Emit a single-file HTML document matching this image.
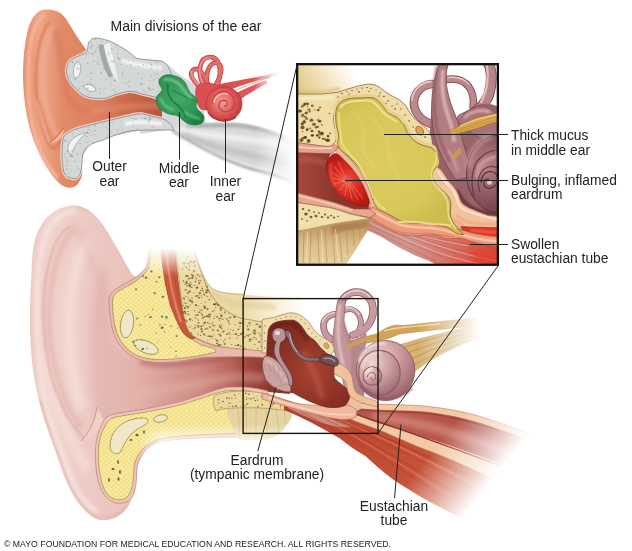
<!DOCTYPE html>
<html><head><meta charset="utf-8"><title>Ear infection</title>
<style>
html,body{margin:0;padding:0;background:#fff;}
svg{display:block}
text{font-family:"Liberation Sans",sans-serif;fill:#222}
</style></head>
<body>
<svg width="632" height="551" viewBox="0 0 632 551">
<rect width="632" height="551" fill="#fff"/>

<defs>
<filter id="b1" filterUnits="userSpaceOnUse" x="0" y="0" width="632" height="551"><feGaussianBlur stdDeviation="1"/></filter>
<filter id="b2" filterUnits="userSpaceOnUse" x="0" y="0" width="632" height="551"><feGaussianBlur stdDeviation="2"/></filter>
<filter id="b3" filterUnits="userSpaceOnUse" x="0" y="0" width="632" height="551"><feGaussianBlur stdDeviation="3.5"/></filter>
<filter id="b5" filterUnits="userSpaceOnUse" x="0" y="0" width="632" height="551"><feGaussianBlur stdDeviation="6"/></filter>
<filter id="b05" filterUnits="userSpaceOnUse" x="0" y="0" width="632" height="551"><feGaussianBlur stdDeviation="0.5"/></filter>
</defs>


<defs>
<linearGradient id="sgTube" x1="140" y1="0" x2="292" y2="0" gradientUnits="userSpaceOnUse">
 <stop offset="0" stop-color="#cfd1d1"/><stop offset="0.5" stop-color="#d2d4d4"/><stop offset="0.8" stop-color="#e6e7e7"/><stop offset="1" stop-color="#ffffff"/>
</linearGradient>
<linearGradient id="sgPinna" x1="24" y1="0" x2="90" y2="0" gradientUnits="userSpaceOnUse">
 <stop offset="0" stop-color="#e7936f"/><stop offset="0.25" stop-color="#efa586"/><stop offset="0.6" stop-color="#e38a68"/><stop offset="1" stop-color="#dd8160"/>
</linearGradient>
<linearGradient id="sgCanal" x1="80" y1="0" x2="160" y2="0" gradientUnits="userSpaceOnUse">
 <stop offset="0" stop-color="#e48a6a" stop-opacity="0"/><stop offset="0.5" stop-color="#cf6f4f"/><stop offset="1" stop-color="#b9553a"/>
</linearGradient>
<linearGradient id="smgTube" x1="255" y1="0" x2="296" y2="0" gradientUnits="userSpaceOnUse"><stop offset="0" stop-color="#fff"/><stop offset="1" stop-color="#fff" stop-opacity="0"/></linearGradient>
<mask id="smTube" maskUnits="userSpaceOnUse" x="0" y="0" width="632" height="551"><rect x="0" y="0" width="632" height="551" fill="url(#smgTube)"/></mask>
<clipPath id="scpPinna"><path d="M46,9.5 C38,9.5 31.5,17 28,29 C23,50 22,72 24,95 C26,116 30,132 36,146 C42,160 50,174 58,182 C64,188.5 72,189.5 77,185 C81,180 83,175 82,171 L80,160 L92,140 L162,126 L162,92 L120,60 L92,46 L86,49.5 C80,42 74,32 69,23.6 C66,18 62.5,14 58.5,12 C54.5,10 50,9.5 46,9.5 Z"/></clipPath>
<radialGradient id="sgCoch" cx="222" cy="102" r="20" gradientUnits="userSpaceOnUse">
 <stop offset="0" stop-color="#f3a39c"/><stop offset="0.6" stop-color="#de5a58"/><stop offset="1" stop-color="#c03c40"/>
</radialGradient>
<linearGradient id="sgNerve" x1="215" y1="0" x2="280" y2="0" gradientUnits="userSpaceOnUse">
 <stop offset="0" stop-color="#d54a4a"/><stop offset="0.6" stop-color="#dc5c5a"/><stop offset="1" stop-color="#f2b4ae" stop-opacity="0"/>
</linearGradient>
<radialGradient id="sgGreen" cx="178" cy="98" r="30" gradientUnits="userSpaceOnUse">
 <stop offset="0" stop-color="#45a869"/><stop offset="0.7" stop-color="#2e9655"/><stop offset="1" stop-color="#1f7f45"/>
</radialGradient>
</defs>
<g id="smallear">
 <!-- gray tube going lower right -->
 <g mask="url(#smTube)">
 <path d="M150,60 L162,61 C168,64 172,68 176,72 C184,78 192,82 200,90 L206,123 C217,122.5 228,122.5 237.5,122.8 C245,123.5 252,125 259,126.9 C267,129 274,131 280.5,133.6 L300,142 L300,186 C290,181 280,177 270,174 C263,172 257,171 251,170 C241,166.5 232,163 224,159 C214,154.5 205,150 197,145.7 C188,140.5 179,135 170,129.6 L140,134 L140,100 Z" fill="#d6d7d7"/>
 <path d="M186,127 C200,125.5 220,125 238,125.5 C252,126.5 268,131 284,138" stroke="#a9abab" stroke-width="4" fill="none" filter="url(#b1)" opacity="0.85"/>
 <path d="M176,129 C200,134 235,138 262,141 C275,143 288,147 300,152" stroke="#f2f2f2" stroke-width="6" fill="none" filter="url(#b2)" opacity="0.95"/>
 <path d="M182,134 C200,142 225,150 250,155 C268,158 284,163 298,168" stroke="#b4b6b6" stroke-width="4.5" fill="none" filter="url(#b2)" opacity="0.8"/>
 <path d="M200,147 C215,155 235,162 255,167 C270,170 284,174 296,179" stroke="#ececec" stroke-width="3" fill="none" filter="url(#b1)" opacity="0.8"/>
 <path d="M172,131 C185,139 200,147.5 224,159 C240,166 256,171 270,174 C280,177 290,181 300,186" stroke="#a4a6a6" stroke-width="2.5" fill="none" filter="url(#b1)" opacity="0.8"/>
 </g>
 <!-- orange pinna + canal -->
 <path d="M46,9.5 C38,9.5 31.5,17 28,29 C23,50 22,72 24,95 C26,116 30,132 36,146 C42,160 50,174 58,182 C64,188.5 72,189.5 77,185 C81,180 83,175 82,171 L80,160 L92,140 L162,126 L162,92 L120,60 L92,46 L86,49.5 C80,42 74,32 69,23.6 C66,18 62.5,14 58.5,12 C54.5,10 50,9.5 46,9.5 Z" fill="url(#sgPinna)"/>
 <!-- helix highlight -->
 <path d="M45,14 C37,18 31,34 29,55 C27,80 28,105 33,128 C38,150 48,168 58,178" stroke="#f6b9a2" stroke-width="3.5" fill="none" filter="url(#b1)" opacity="0.8"/>
 <!-- inner fold shadow -->
 <path d="M50,22 C42,30 37,50 36,75 C35,100 40,125 48,143 C53,152 58,148 60,140" stroke="#d4714f" stroke-width="2.5" fill="none" filter="url(#b1)" opacity="0.7"/>
 <path d="M52,26 C46,40 42,60 43,85 C44,105 50,125 58,138" stroke="#f2ad94" stroke-width="5" fill="none" filter="url(#b2)" opacity="0.8"/>
 <path d="M56,30 C60,50 62,70 66,90 C70,105 80,112 95,112" stroke="#d87655" stroke-width="6" fill="none" filter="url(#b2)" opacity="0.55"/>
 <!-- canal darker -->
 <path d="M70,100 L101,99 L127,92 L142,94.5 L162,99 L162,118 L142,115 L127,118 L101,122 L76,129 Z" fill="url(#sgCanal)"/>
 <path d="M90,112 C110,108 135,104 160,106" stroke="#e89878" stroke-width="4" fill="none" filter="url(#b2)" opacity="0.6"/>
 <!-- tragus-like notch lower -->
 <path d="M64.5,127.5 C61,132 56,138 49.5,143 C53,143.5 57,142 60,139 C62.5,136 64,132 64.5,127.5 Z" fill="#f5b9a2"/>
 <path d="M64.5,127.5 C61,132 56,138 49.5,143" stroke="#c9623f" stroke-width="1.1" fill="none" opacity="0.85"/>
 <path d="M36,100 C40,116 44,130 49.5,143" stroke="#f4b49c" stroke-width="2.2" fill="none" filter="url(#b1)" opacity="0.8"/>
 <path d="M39,100 C43,116 47,128 52,139" stroke="#d4704e" stroke-width="1.6" fill="none" filter="url(#b1)" opacity="0.6"/>
 <!-- upper gray bone -->
 <path d="M66.5,71 C67,64 70,60 73.6,58.4 C80,55 86,54 87.6,49.5 C88,45 88,42 90,40.6 C92,38.5 94,38 96.4,38 C102,38.5 107,40 111.7,42 C117,44.5 122,47.5 127,50.8 C131,53.5 134,57 137,58.4 C145,60 152,60 162,61 C168,64 172,72 172,82 C172,90 170,96 166,100.5 C158,98 148,95 142,94 C137,92 132,91 127,91.5 C122,92.5 118,94 113,95.5 C109,97.5 105,98.5 101.5,98.5 C96,98.5 90,98 86,96.4 C82,94.5 79,92 76,88.8 C71,84 66.5,78 66.5,71 Z" fill="none" stroke="#f3cdbd" stroke-width="3.4" stroke-linejoin="round" clip-path="url(#scpPinna)"/>
 <path d="M66.5,71 C67,64 70,60 73.6,58.4 C80,55 86,54 87.6,49.5 C88,45 88,42 90,40.6 C92,38.5 94,38 96.4,38 C102,38.5 107,40 111.7,42 C117,44.5 122,47.5 127,50.8 C131,53.5 134,57 137,58.4 C145,60 152,60 162,61 C168,64 172,72 172,82 C172,90 170,96 166,100.5 C158,98 148,95 142,94 C137,92 132,91 127,91.5 C122,92.5 118,94 113,95.5 C109,97.5 105,98.5 101.5,98.5 C96,98.5 90,98 86,96.4 C82,94.5 79,92 76,88.8 C71,84 66.5,78 66.5,71 Z" fill="#d5d8d9" stroke="#8b9192" stroke-width="0.9"/>
 <path d="M98.5,44.5 C99.5,55 103,67 109,78 L113,76 C108,65 105,55 103.5,44.5 Z" fill="#a4a9aa"/>
 <path d="M104,45 C106,55 109,66 113.5,75 L119,84 C116,70 112,55 110,43 Z" fill="#f1f2f2"/>
 <ellipse cx="77" cy="70" rx="3.6" ry="8" fill="#f2f3f3" stroke="#9a9e9e" stroke-width="0.7" transform="rotate(8 77 70)"/>
 <ellipse cx="90" cy="88" rx="6" ry="3.2" fill="#f2f3f3" stroke="#9a9e9e" stroke-width="0.7" transform="rotate(20 90 88)"/>
 <path d="M122,60 C130,64 140,66 162,68" stroke="#f4f5f5" stroke-width="4" fill="none" filter="url(#b1)"/>
 <ellipse cx="97.1" cy="47.4" rx="0.79" ry="0.64" fill="#858b8c" opacity="0.33"/>
<ellipse cx="101.0" cy="41.6" rx="0.70" ry="0.54" fill="#858b8c" opacity="0.31"/>
<ellipse cx="106.5" cy="89.3" rx="0.47" ry="0.40" fill="#858b8c" opacity="0.39"/>
<ellipse cx="155.1" cy="73.8" rx="0.64" ry="0.39" fill="#858b8c" opacity="0.69"/>
<ellipse cx="95.7" cy="88.6" rx="0.51" ry="0.44" fill="#858b8c" opacity="0.53"/>
<ellipse cx="101.6" cy="72.0" rx="0.44" ry="0.30" fill="#858b8c" opacity="0.32"/>
<ellipse cx="130.3" cy="64.5" rx="0.59" ry="0.46" fill="#858b8c" opacity="0.53"/>
<ellipse cx="94.9" cy="87.3" rx="0.82" ry="0.68" fill="#858b8c" opacity="0.40"/>
<ellipse cx="115.8" cy="92.3" rx="0.84" ry="0.83" fill="#858b8c" opacity="0.42"/>
<ellipse cx="78.0" cy="63.9" rx="0.85" ry="0.68" fill="#858b8c" opacity="0.36"/>
<ellipse cx="138.1" cy="73.5" rx="0.93" ry="0.81" fill="#858b8c" opacity="0.43"/>
<ellipse cx="122.3" cy="74.0" rx="0.67" ry="0.66" fill="#858b8c" opacity="0.64"/>
<ellipse cx="111.1" cy="79.2" rx="0.44" ry="0.37" fill="#858b8c" opacity="0.58"/>
<ellipse cx="159.4" cy="89.0" rx="0.57" ry="0.50" fill="#858b8c" opacity="0.45"/>
<ellipse cx="103.4" cy="92.0" rx="0.45" ry="0.37" fill="#858b8c" opacity="0.48"/>
<ellipse cx="149.2" cy="88.8" rx="0.92" ry="0.70" fill="#858b8c" opacity="0.41"/>
<ellipse cx="100.4" cy="92.8" rx="0.97" ry="0.65" fill="#858b8c" opacity="0.36"/>
<ellipse cx="88.6" cy="52.5" rx="0.69" ry="0.49" fill="#858b8c" opacity="0.54"/>
<ellipse cx="101.3" cy="73.1" rx="0.97" ry="0.78" fill="#858b8c" opacity="0.58"/>
<ellipse cx="124.4" cy="79.9" rx="0.43" ry="0.39" fill="#858b8c" opacity="0.66"/>
<ellipse cx="148.3" cy="87.5" rx="0.64" ry="0.41" fill="#858b8c" opacity="0.46"/>
<ellipse cx="82.1" cy="59.1" rx="0.43" ry="0.29" fill="#858b8c" opacity="0.30"/>
<ellipse cx="76.4" cy="60.5" rx="0.42" ry="0.35" fill="#858b8c" opacity="0.65"/>
<ellipse cx="99.3" cy="60.6" rx="0.47" ry="0.47" fill="#858b8c" opacity="0.64"/>
<ellipse cx="110.3" cy="68.0" rx="0.45" ry="0.33" fill="#858b8c" opacity="0.34"/>
<ellipse cx="91.6" cy="89.4" rx="0.50" ry="0.49" fill="#858b8c" opacity="0.31"/>
<ellipse cx="116.1" cy="47.1" rx="0.73" ry="0.59" fill="#858b8c" opacity="0.31"/>
<ellipse cx="158.0" cy="91.5" rx="0.82" ry="0.61" fill="#858b8c" opacity="0.40"/>
<ellipse cx="82.5" cy="85.9" rx="0.72" ry="0.53" fill="#858b8c" opacity="0.61"/>
<ellipse cx="87.7" cy="88.3" rx="0.99" ry="0.91" fill="#858b8c" opacity="0.64"/>
<ellipse cx="143.1" cy="83.9" rx="0.54" ry="0.40" fill="#858b8c" opacity="0.51"/>
<ellipse cx="93.0" cy="54.1" rx="0.82" ry="0.64" fill="#858b8c" opacity="0.68"/>
<ellipse cx="87.5" cy="52.1" rx="0.52" ry="0.44" fill="#858b8c" opacity="0.38"/>
<ellipse cx="150.7" cy="90.1" rx="0.69" ry="0.63" fill="#858b8c" opacity="0.56"/>
<ellipse cx="74.9" cy="79.0" rx="0.95" ry="0.85" fill="#858b8c" opacity="0.61"/>
<ellipse cx="111.5" cy="49.1" rx="0.87" ry="0.80" fill="#858b8c" opacity="0.43"/>
<ellipse cx="157.4" cy="62.5" rx="0.64" ry="0.57" fill="#858b8c" opacity="0.68"/>
<ellipse cx="128.1" cy="59.7" rx="0.73" ry="0.44" fill="#858b8c" opacity="0.35"/>
<ellipse cx="157.3" cy="78.3" rx="0.72" ry="0.55" fill="#858b8c" opacity="0.67"/>
<ellipse cx="148.1" cy="89.2" rx="0.53" ry="0.38" fill="#858b8c" opacity="0.40"/>
<ellipse cx="89.4" cy="74.4" rx="0.56" ry="0.36" fill="#858b8c" opacity="0.47"/>
<ellipse cx="109.6" cy="74.2" rx="0.94" ry="0.91" fill="#858b8c" opacity="0.47"/>
<ellipse cx="113.7" cy="71.0" rx="0.71" ry="0.55" fill="#858b8c" opacity="0.31"/>
<ellipse cx="111.0" cy="83.0" rx="0.73" ry="0.59" fill="#858b8c" opacity="0.43"/>
<ellipse cx="118.7" cy="86.6" rx="0.46" ry="0.32" fill="#858b8c" opacity="0.52"/>
<ellipse cx="92.8" cy="85.9" rx="0.70" ry="0.64" fill="#858b8c" opacity="0.52"/>
<ellipse cx="151.9" cy="65.5" rx="0.77" ry="0.62" fill="#858b8c" opacity="0.50"/>
<ellipse cx="131.4" cy="66.0" rx="0.72" ry="0.70" fill="#858b8c" opacity="0.49"/>
<ellipse cx="78.3" cy="65.4" rx="0.44" ry="0.28" fill="#858b8c" opacity="0.40"/>
<ellipse cx="129.3" cy="86.6" rx="0.94" ry="0.83" fill="#858b8c" opacity="0.36"/>
<ellipse cx="104.0" cy="68.2" rx="0.99" ry="0.66" fill="#858b8c" opacity="0.63"/>
<ellipse cx="107.1" cy="70.0" rx="0.60" ry="0.44" fill="#858b8c" opacity="0.38"/>
<ellipse cx="118.5" cy="65.3" rx="0.41" ry="0.35" fill="#858b8c" opacity="0.43"/>
<ellipse cx="158.6" cy="86.9" rx="0.98" ry="0.69" fill="#858b8c" opacity="0.34"/>
<ellipse cx="92.2" cy="46.0" rx="0.65" ry="0.61" fill="#858b8c" opacity="0.66"/>
<ellipse cx="91.1" cy="47.3" rx="0.95" ry="0.84" fill="#858b8c" opacity="0.53"/>
<ellipse cx="131.0" cy="64.4" rx="0.44" ry="0.38" fill="#858b8c" opacity="0.68"/>
<ellipse cx="147.2" cy="66.1" rx="0.60" ry="0.59" fill="#858b8c" opacity="0.52"/>
<ellipse cx="91.9" cy="46.0" rx="0.72" ry="0.46" fill="#858b8c" opacity="0.40"/>
<ellipse cx="85.8" cy="57.3" rx="0.58" ry="0.42" fill="#858b8c" opacity="0.60"/>
<ellipse cx="113.5" cy="49.0" rx="0.61" ry="0.43" fill="#858b8c" opacity="0.31"/>
<ellipse cx="118.2" cy="49.7" rx="0.68" ry="0.44" fill="#858b8c" opacity="0.67"/>
<ellipse cx="143.2" cy="64.8" rx="0.70" ry="0.53" fill="#858b8c" opacity="0.63"/>
<ellipse cx="114.1" cy="80.6" rx="0.99" ry="0.92" fill="#858b8c" opacity="0.44"/>
<ellipse cx="132.7" cy="77.4" rx="0.64" ry="0.40" fill="#858b8c" opacity="0.44"/>
<ellipse cx="145.2" cy="92.0" rx="0.80" ry="0.56" fill="#858b8c" opacity="0.41"/>
<ellipse cx="94.3" cy="66.5" rx="0.49" ry="0.35" fill="#858b8c" opacity="0.48"/>
<ellipse cx="117.9" cy="53.2" rx="0.98" ry="0.73" fill="#858b8c" opacity="0.42"/>
<ellipse cx="111.1" cy="69.2" rx="0.52" ry="0.31" fill="#858b8c" opacity="0.50"/>
<ellipse cx="91.6" cy="43.6" rx="0.64" ry="0.39" fill="#858b8c" opacity="0.32"/>
<ellipse cx="95.3" cy="52.4" rx="0.75" ry="0.68" fill="#858b8c" opacity="0.51"/>
<ellipse cx="128.2" cy="82.4" rx="0.93" ry="0.68" fill="#858b8c" opacity="0.46"/>
<ellipse cx="134.3" cy="77.9" rx="0.43" ry="0.41" fill="#858b8c" opacity="0.63"/>
<ellipse cx="125.3" cy="83.5" rx="0.89" ry="0.72" fill="#858b8c" opacity="0.36"/>
<ellipse cx="113.9" cy="89.8" rx="0.88" ry="0.74" fill="#858b8c" opacity="0.63"/>
<ellipse cx="150.0" cy="80.3" rx="0.82" ry="0.50" fill="#858b8c" opacity="0.39"/>
<ellipse cx="79.4" cy="60.4" rx="0.46" ry="0.38" fill="#858b8c" opacity="0.63"/>
<ellipse cx="125.4" cy="76.8" rx="0.81" ry="0.49" fill="#858b8c" opacity="0.50"/>
<ellipse cx="141.2" cy="84.4" rx="0.70" ry="0.61" fill="#858b8c" opacity="0.51"/>
<ellipse cx="90.5" cy="42.6" rx="0.56" ry="0.38" fill="#858b8c" opacity="0.59"/>
<ellipse cx="112.9" cy="61.7" rx="0.69" ry="0.62" fill="#858b8c" opacity="0.57"/>
<ellipse cx="124.4" cy="77.9" rx="0.45" ry="0.31" fill="#858b8c" opacity="0.36"/>
<ellipse cx="129.5" cy="80.9" rx="0.81" ry="0.65" fill="#858b8c" opacity="0.42"/>
<ellipse cx="110.2" cy="66.9" rx="0.47" ry="0.32" fill="#858b8c" opacity="0.66"/>
<ellipse cx="158.0" cy="96.0" rx="0.41" ry="0.38" fill="#858b8c" opacity="0.48"/>
<ellipse cx="157.0" cy="65.9" rx="0.56" ry="0.55" fill="#858b8c" opacity="0.38"/>
<ellipse cx="86.6" cy="74.1" rx="0.49" ry="0.48" fill="#858b8c" opacity="0.51"/>
<ellipse cx="79.3" cy="88.9" rx="0.71" ry="0.62" fill="#858b8c" opacity="0.65"/>
<ellipse cx="88.5" cy="93.7" rx="0.69" ry="0.42" fill="#858b8c" opacity="0.31"/>
<ellipse cx="112.7" cy="65.9" rx="0.58" ry="0.43" fill="#858b8c" opacity="0.36"/>
<ellipse cx="96.4" cy="90.1" rx="0.40" ry="0.38" fill="#858b8c" opacity="0.60"/>
<ellipse cx="94.0" cy="61.1" rx="0.64" ry="0.53" fill="#858b8c" opacity="0.70"/>
<ellipse cx="100.5" cy="64.5" rx="0.57" ry="0.36" fill="#858b8c" opacity="0.32"/>
<ellipse cx="91.7" cy="69.7" rx="0.51" ry="0.50" fill="#858b8c" opacity="0.45"/>
<ellipse cx="149.2" cy="88.3" rx="0.78" ry="0.76" fill="#858b8c" opacity="0.67"/>
<ellipse cx="118.1" cy="82.6" rx="0.43" ry="0.34" fill="#858b8c" opacity="0.59"/>
<ellipse cx="137.0" cy="78.0" rx="0.57" ry="0.55" fill="#858b8c" opacity="0.32"/>
<ellipse cx="78.8" cy="67.3" rx="0.61" ry="0.54" fill="#858b8c" opacity="0.42"/>
<ellipse cx="128.0" cy="56.7" rx="0.73" ry="0.49" fill="#858b8c" opacity="0.46"/>
<ellipse cx="151.3" cy="68.8" rx="0.53" ry="0.53" fill="#858b8c" opacity="0.66"/>
<ellipse cx="108.8" cy="46.7" rx="0.52" ry="0.38" fill="#858b8c" opacity="0.34"/>
<ellipse cx="91.0" cy="73.3" rx="0.93" ry="0.71" fill="#858b8c" opacity="0.60"/>
<ellipse cx="105.5" cy="70.5" rx="0.63" ry="0.39" fill="#858b8c" opacity="0.44"/>
<ellipse cx="78.7" cy="69.2" rx="0.78" ry="0.53" fill="#858b8c" opacity="0.65"/>
<ellipse cx="92.2" cy="53.4" rx="0.64" ry="0.63" fill="#858b8c" opacity="0.48"/>
<ellipse cx="145.9" cy="92.1" rx="0.41" ry="0.37" fill="#858b8c" opacity="0.31"/>
<ellipse cx="150.3" cy="67.3" rx="0.75" ry="0.57" fill="#858b8c" opacity="0.30"/>
<ellipse cx="153.2" cy="89.2" rx="0.91" ry="0.64" fill="#858b8c" opacity="0.69"/>
<ellipse cx="115.6" cy="80.3" rx="0.96" ry="0.83" fill="#858b8c" opacity="0.59"/>
<ellipse cx="138.1" cy="66.4" rx="0.73" ry="0.67" fill="#858b8c" opacity="0.32"/>
<ellipse cx="88.6" cy="95.0" rx="0.79" ry="0.51" fill="#858b8c" opacity="0.42"/>
<ellipse cx="90.4" cy="77.5" rx="0.82" ry="0.51" fill="#858b8c" opacity="0.34"/>
<ellipse cx="115.8" cy="74.1" rx="0.63" ry="0.53" fill="#858b8c" opacity="0.39"/>
<ellipse cx="111.2" cy="52.6" rx="0.55" ry="0.48" fill="#858b8c" opacity="0.68"/>
<ellipse cx="95.6" cy="39.4" rx="0.70" ry="0.54" fill="#858b8c" opacity="0.57"/>
<ellipse cx="90.9" cy="79.4" rx="0.96" ry="0.59" fill="#858b8c" opacity="0.39"/>
<ellipse cx="98.4" cy="64.1" rx="0.81" ry="0.74" fill="#858b8c" opacity="0.38"/>
<ellipse cx="135.7" cy="69.3" rx="0.52" ry="0.38" fill="#858b8c" opacity="0.69"/>
<ellipse cx="87.6" cy="85.1" rx="0.58" ry="0.46" fill="#858b8c" opacity="0.68"/>
<ellipse cx="105.8" cy="79.2" rx="0.97" ry="0.73" fill="#858b8c" opacity="0.36"/>
<ellipse cx="72.6" cy="62.4" rx="0.94" ry="0.84" fill="#858b8c" opacity="0.65"/>
<ellipse cx="159.8" cy="95.8" rx="0.60" ry="0.58" fill="#858b8c" opacity="0.37"/>
<ellipse cx="128.8" cy="61.5" rx="0.62" ry="0.42" fill="#858b8c" opacity="0.43"/>
<ellipse cx="99.7" cy="97.2" rx="0.47" ry="0.32" fill="#858b8c" opacity="0.69"/>
<ellipse cx="100.2" cy="88.9" rx="0.89" ry="0.55" fill="#858b8c" opacity="0.47"/>
<ellipse cx="111.0" cy="61.1" rx="0.95" ry="0.71" fill="#858b8c" opacity="0.38"/>
<ellipse cx="105.2" cy="88.3" rx="0.86" ry="0.53" fill="#858b8c" opacity="0.32"/>
<ellipse cx="90.9" cy="84.3" rx="0.94" ry="0.67" fill="#858b8c" opacity="0.44"/>
<ellipse cx="156.1" cy="76.3" rx="0.56" ry="0.40" fill="#858b8c" opacity="0.59"/>
<ellipse cx="155.7" cy="62.0" rx="0.55" ry="0.44" fill="#858b8c" opacity="0.47"/>
<ellipse cx="141.6" cy="83.8" rx="0.89" ry="0.75" fill="#858b8c" opacity="0.61"/>
<ellipse cx="97.5" cy="57.8" rx="0.62" ry="0.39" fill="#858b8c" opacity="0.61"/>
<ellipse cx="85.3" cy="84.7" rx="0.55" ry="0.34" fill="#858b8c" opacity="0.33"/>
<ellipse cx="118.4" cy="58.2" rx="0.99" ry="0.98" fill="#858b8c" opacity="0.65"/>
<ellipse cx="91.6" cy="43.2" rx="0.46" ry="0.40" fill="#858b8c" opacity="0.50"/>
<ellipse cx="108.6" cy="52.5" rx="0.65" ry="0.57" fill="#858b8c" opacity="0.55"/>
<ellipse cx="136.6" cy="90.5" rx="0.80" ry="0.75" fill="#858b8c" opacity="0.35"/>
<ellipse cx="94.3" cy="73.1" rx="0.62" ry="0.42" fill="#858b8c" opacity="0.60"/>
<ellipse cx="90.0" cy="53.2" rx="0.49" ry="0.41" fill="#858b8c" opacity="0.65"/>
<ellipse cx="97.3" cy="62.6" rx="1.00" ry="0.69" fill="#858b8c" opacity="0.50"/>
<ellipse cx="142.2" cy="78.5" rx="0.99" ry="0.79" fill="#858b8c" opacity="0.34"/>
<ellipse cx="143.2" cy="90.1" rx="0.95" ry="0.68" fill="#858b8c" opacity="0.32"/>
<ellipse cx="157.5" cy="74.2" rx="0.96" ry="0.91" fill="#858b8c" opacity="0.45"/>
<ellipse cx="108.8" cy="54.1" rx="0.87" ry="0.56" fill="#858b8c" opacity="0.68"/>
<ellipse cx="122.4" cy="76.4" rx="0.53" ry="0.35" fill="#858b8c" opacity="0.45"/>
<ellipse cx="86.0" cy="53.8" rx="0.76" ry="0.52" fill="#858b8c" opacity="0.56"/>
<ellipse cx="96.0" cy="50.6" rx="0.88" ry="0.55" fill="#858b8c" opacity="0.52"/>
<ellipse cx="76.4" cy="62.5" rx="0.73" ry="0.46" fill="#858b8c" opacity="0.56"/>
<ellipse cx="82.2" cy="81.1" rx="0.65" ry="0.47" fill="#858b8c" opacity="0.41"/>
<ellipse cx="119.7" cy="60.1" rx="0.65" ry="0.65" fill="#858b8c" opacity="0.65"/>
<ellipse cx="100.8" cy="50.2" rx="0.84" ry="0.50" fill="#858b8c" opacity="0.38"/>
<ellipse cx="150.9" cy="64.3" rx="0.89" ry="0.85" fill="#858b8c" opacity="0.46"/>
<ellipse cx="109.9" cy="48.1" rx="0.41" ry="0.35" fill="#858b8c" opacity="0.52"/>
<ellipse cx="124.9" cy="61.0" rx="0.70" ry="0.50" fill="#858b8c" opacity="0.36"/>
<ellipse cx="77.1" cy="68.4" rx="0.88" ry="0.60" fill="#858b8c" opacity="0.69"/>
<ellipse cx="157.7" cy="67.9" rx="0.43" ry="0.33" fill="#858b8c" opacity="0.67"/>
<ellipse cx="151.1" cy="76.5" rx="0.89" ry="0.82" fill="#858b8c" opacity="0.36"/>
<ellipse cx="87.7" cy="63.1" rx="0.91" ry="0.61" fill="#858b8c" opacity="0.63"/>
<ellipse cx="87.3" cy="62.8" rx="0.71" ry="0.46" fill="#858b8c" opacity="0.45"/>
<ellipse cx="90.0" cy="82.9" rx="0.94" ry="0.77" fill="#858b8c" opacity="0.32"/>
<ellipse cx="122.8" cy="72.1" rx="0.78" ry="0.60" fill="#858b8c" opacity="0.42"/>
<ellipse cx="121.2" cy="64.4" rx="0.80" ry="0.62" fill="#858b8c" opacity="0.48"/>
<ellipse cx="69.2" cy="76.4" rx="0.69" ry="0.63" fill="#858b8c" opacity="0.39"/>
<ellipse cx="139.5" cy="66.4" rx="0.51" ry="0.33" fill="#858b8c" opacity="0.49"/>
<ellipse cx="78.9" cy="64.7" rx="0.46" ry="0.37" fill="#858b8c" opacity="0.48"/>
<ellipse cx="70.8" cy="77.5" rx="0.45" ry="0.41" fill="#858b8c" opacity="0.59"/>
<ellipse cx="113.9" cy="61.4" rx="0.97" ry="0.92" fill="#858b8c" opacity="0.35"/>
<ellipse cx="159.6" cy="83.4" rx="0.89" ry="0.88" fill="#858b8c" opacity="0.38"/>
<ellipse cx="86.4" cy="54.3" rx="0.70" ry="0.43" fill="#858b8c" opacity="0.43"/>
<ellipse cx="154.1" cy="80.1" rx="0.94" ry="0.86" fill="#858b8c" opacity="0.37"/>
 <!-- lower gray bone -->
 <path d="M63.5,137 C66,133 71,131 76,129 C84,126.5 93,124.5 101.5,122.3 C110,120.3 119,118 127,116.2 C132,115 137,113.8 142,113.8 C148,115.5 155,117 162,118.5 C168,121 172,125 174,130 C160,130 142,130 132,130.5 C121,132.5 110,137 101.5,140.6 C96,142 92,143.5 89,145.7 C85,148.5 83,152 82.5,156 C82,161 82,166 81,171 C80,175.5 77,179 73.6,178.7 C68,178 64.5,175 63.5,171 C61.5,160 61.5,146 63.5,137 Z" fill="none" stroke="#f3cdbd" stroke-width="3.4" stroke-linejoin="round" clip-path="url(#scpPinna)"/>
 <path d="M63.5,137 C66,133 71,131 76,129 C84,126.5 93,124.5 101.5,122.3 C110,120.3 119,118 127,116.2 C132,115 137,113.8 142,113.8 C148,115.5 155,117 162,118.5 C168,121 172,125 174,130 C160,130 142,130 132,130.5 C121,132.5 110,137 101.5,140.6 C96,142 92,143.5 89,145.7 C85,148.5 83,152 82.5,156 C82,161 82,166 81,171 C80,175.5 77,179 73.6,178.7 C68,178 64.5,175 63.5,171 C61.5,160 61.5,146 63.5,137 Z" fill="#d5d8d9" stroke="#8b9192" stroke-width="0.9"/>
 <path d="M68,146 C70,139 78,134 88,132 C80,137 73,147 71,156 C69,153 67.5,150 68,146 Z" fill="#f2f3f3" stroke="#9a9e9e" stroke-width="0.7"/>
 <path d="M125,124 C135,121 148,122 162,124" stroke="#f4f5f5" stroke-width="4" fill="none" filter="url(#b1)"/>
 <ellipse cx="74.2" cy="149.5" rx="0.72" ry="0.68" fill="#858b8c" opacity="0.44"/>
<ellipse cx="148.6" cy="121.8" rx="0.90" ry="0.68" fill="#858b8c" opacity="0.55"/>
<ellipse cx="105.9" cy="126.5" rx="0.77" ry="0.72" fill="#858b8c" opacity="0.32"/>
<ellipse cx="77.5" cy="155.0" rx="0.62" ry="0.59" fill="#858b8c" opacity="0.51"/>
<ellipse cx="73.3" cy="138.2" rx="0.51" ry="0.43" fill="#858b8c" opacity="0.53"/>
<ellipse cx="109.1" cy="123.8" rx="0.87" ry="0.57" fill="#858b8c" opacity="0.40"/>
<ellipse cx="72.3" cy="156.5" rx="0.84" ry="0.64" fill="#858b8c" opacity="0.61"/>
<ellipse cx="150.6" cy="117.9" rx="0.67" ry="0.46" fill="#858b8c" opacity="0.46"/>
<ellipse cx="68.7" cy="165.6" rx="0.41" ry="0.40" fill="#858b8c" opacity="0.52"/>
<ellipse cx="79.9" cy="135.1" rx="0.55" ry="0.53" fill="#858b8c" opacity="0.32"/>
<ellipse cx="63.6" cy="169.9" rx="0.77" ry="0.69" fill="#858b8c" opacity="0.49"/>
<ellipse cx="106.9" cy="129.7" rx="0.45" ry="0.28" fill="#858b8c" opacity="0.39"/>
<ellipse cx="156.6" cy="129.1" rx="0.84" ry="0.59" fill="#858b8c" opacity="0.31"/>
<ellipse cx="94.9" cy="130.5" rx="0.85" ry="0.75" fill="#858b8c" opacity="0.55"/>
<ellipse cx="70.5" cy="174.2" rx="0.47" ry="0.30" fill="#858b8c" opacity="0.31"/>
<ellipse cx="67.0" cy="160.0" rx="0.72" ry="0.64" fill="#858b8c" opacity="0.58"/>
<ellipse cx="69.4" cy="153.4" rx="0.58" ry="0.54" fill="#858b8c" opacity="0.63"/>
<ellipse cx="149.5" cy="119.3" rx="0.83" ry="0.82" fill="#858b8c" opacity="0.67"/>
<ellipse cx="136.5" cy="128.3" rx="0.56" ry="0.34" fill="#858b8c" opacity="0.47"/>
<ellipse cx="87.9" cy="133.4" rx="0.76" ry="0.55" fill="#858b8c" opacity="0.45"/>
<ellipse cx="66.0" cy="141.8" rx="0.62" ry="0.46" fill="#858b8c" opacity="0.61"/>
<ellipse cx="71.8" cy="168.3" rx="0.49" ry="0.33" fill="#858b8c" opacity="0.30"/>
<ellipse cx="80.9" cy="147.1" rx="0.57" ry="0.40" fill="#858b8c" opacity="0.63"/>
<ellipse cx="111.3" cy="122.1" rx="0.72" ry="0.66" fill="#858b8c" opacity="0.33"/>
<ellipse cx="149.4" cy="120.6" rx="0.84" ry="0.58" fill="#858b8c" opacity="0.31"/>
<ellipse cx="94.7" cy="125.1" rx="0.82" ry="0.74" fill="#858b8c" opacity="0.56"/>
<ellipse cx="79.4" cy="143.5" rx="0.79" ry="0.51" fill="#858b8c" opacity="0.53"/>
<ellipse cx="86.1" cy="127.5" rx="0.55" ry="0.52" fill="#858b8c" opacity="0.58"/>
<ellipse cx="87.0" cy="136.2" rx="0.66" ry="0.48" fill="#858b8c" opacity="0.36"/>
<ellipse cx="133.7" cy="121.6" rx="0.88" ry="0.66" fill="#858b8c" opacity="0.34"/>
<ellipse cx="82.0" cy="156.5" rx="0.45" ry="0.34" fill="#858b8c" opacity="0.38"/>
<ellipse cx="66.3" cy="140.9" rx="0.80" ry="0.64" fill="#858b8c" opacity="0.58"/>
<ellipse cx="76.8" cy="154.2" rx="0.60" ry="0.58" fill="#858b8c" opacity="0.60"/>
<ellipse cx="107.0" cy="135.3" rx="0.71" ry="0.55" fill="#858b8c" opacity="0.34"/>
<ellipse cx="124.1" cy="131.3" rx="0.61" ry="0.52" fill="#858b8c" opacity="0.48"/>
<ellipse cx="153.2" cy="126.9" rx="0.73" ry="0.55" fill="#858b8c" opacity="0.61"/>
<ellipse cx="66.7" cy="150.3" rx="0.48" ry="0.47" fill="#858b8c" opacity="0.61"/>
<ellipse cx="113.4" cy="121.6" rx="0.69" ry="0.61" fill="#858b8c" opacity="0.52"/>
<ellipse cx="89.6" cy="141.0" rx="0.41" ry="0.31" fill="#858b8c" opacity="0.47"/>
<ellipse cx="88.7" cy="129.6" rx="0.77" ry="0.62" fill="#858b8c" opacity="0.68"/>
<ellipse cx="101.0" cy="128.8" rx="0.46" ry="0.43" fill="#858b8c" opacity="0.61"/>
<ellipse cx="117.5" cy="129.7" rx="0.88" ry="0.75" fill="#858b8c" opacity="0.44"/>
<ellipse cx="108.4" cy="134.1" rx="0.67" ry="0.63" fill="#858b8c" opacity="0.35"/>
<ellipse cx="88.9" cy="139.4" rx="0.53" ry="0.36" fill="#858b8c" opacity="0.47"/>
<ellipse cx="90.3" cy="130.9" rx="0.55" ry="0.42" fill="#858b8c" opacity="0.49"/>
<ellipse cx="145.9" cy="118.7" rx="0.81" ry="0.74" fill="#858b8c" opacity="0.66"/>
<ellipse cx="76.6" cy="169.0" rx="0.72" ry="0.43" fill="#858b8c" opacity="0.31"/>
<ellipse cx="76.8" cy="130.2" rx="0.79" ry="0.52" fill="#858b8c" opacity="0.44"/>
<ellipse cx="116.8" cy="132.2" rx="0.52" ry="0.41" fill="#858b8c" opacity="0.36"/>
<ellipse cx="68.7" cy="145.4" rx="0.47" ry="0.38" fill="#858b8c" opacity="0.50"/>
<ellipse cx="63.6" cy="169.6" rx="0.63" ry="0.55" fill="#858b8c" opacity="0.53"/>
<ellipse cx="70.3" cy="156.4" rx="0.72" ry="0.61" fill="#858b8c" opacity="0.31"/>
<ellipse cx="150.1" cy="117.2" rx="0.76" ry="0.56" fill="#858b8c" opacity="0.55"/>
<ellipse cx="137.7" cy="128.7" rx="0.62" ry="0.51" fill="#858b8c" opacity="0.47"/>
<ellipse cx="111.9" cy="132.7" rx="0.65" ry="0.56" fill="#858b8c" opacity="0.69"/>
<ellipse cx="93.8" cy="134.4" rx="0.69" ry="0.63" fill="#858b8c" opacity="0.55"/>
<ellipse cx="66.9" cy="162.0" rx="0.84" ry="0.52" fill="#858b8c" opacity="0.52"/>
<ellipse cx="66.6" cy="165.3" rx="0.86" ry="0.64" fill="#858b8c" opacity="0.56"/>
<ellipse cx="117.5" cy="131.8" rx="0.55" ry="0.40" fill="#858b8c" opacity="0.47"/>
<ellipse cx="153.6" cy="118.6" rx="0.68" ry="0.44" fill="#858b8c" opacity="0.32"/>
<ellipse cx="64.4" cy="140.2" rx="0.70" ry="0.69" fill="#858b8c" opacity="0.68"/>
<ellipse cx="72.9" cy="156.9" rx="0.51" ry="0.31" fill="#858b8c" opacity="0.36"/>
<ellipse cx="71.5" cy="171.5" rx="0.46" ry="0.41" fill="#858b8c" opacity="0.31"/>
<ellipse cx="71.2" cy="155.9" rx="0.75" ry="0.73" fill="#858b8c" opacity="0.48"/>
<ellipse cx="64.4" cy="157.3" rx="0.81" ry="0.59" fill="#858b8c" opacity="0.33"/>
<ellipse cx="133.8" cy="125.8" rx="0.83" ry="0.52" fill="#858b8c" opacity="0.49"/>
<ellipse cx="77.1" cy="166.8" rx="0.58" ry="0.50" fill="#858b8c" opacity="0.56"/>
<ellipse cx="92.9" cy="142.9" rx="0.84" ry="0.74" fill="#858b8c" opacity="0.45"/>
<ellipse cx="67.1" cy="169.2" rx="0.81" ry="0.67" fill="#858b8c" opacity="0.65"/>
<ellipse cx="71.3" cy="151.0" rx="0.80" ry="0.72" fill="#858b8c" opacity="0.38"/>
<ellipse cx="108.1" cy="128.4" rx="0.53" ry="0.48" fill="#858b8c" opacity="0.60"/>
<ellipse cx="120.2" cy="127.3" rx="0.50" ry="0.44" fill="#858b8c" opacity="0.37"/>
<ellipse cx="73.3" cy="156.1" rx="0.79" ry="0.67" fill="#858b8c" opacity="0.36"/>
<ellipse cx="67.9" cy="151.2" rx="0.84" ry="0.82" fill="#858b8c" opacity="0.48"/>
<ellipse cx="151.3" cy="119.2" rx="0.70" ry="0.45" fill="#858b8c" opacity="0.46"/>
<ellipse cx="159.2" cy="129.4" rx="0.42" ry="0.31" fill="#858b8c" opacity="0.40"/>
<ellipse cx="144.2" cy="118.1" rx="0.79" ry="0.68" fill="#858b8c" opacity="0.58"/>
<ellipse cx="158.6" cy="118.6" rx="0.47" ry="0.46" fill="#858b8c" opacity="0.60"/>
<ellipse cx="73.2" cy="136.1" rx="0.53" ry="0.42" fill="#858b8c" opacity="0.35"/>
<ellipse cx="79.4" cy="130.5" rx="0.47" ry="0.29" fill="#858b8c" opacity="0.57"/>
<ellipse cx="132.6" cy="127.7" rx="0.42" ry="0.29" fill="#858b8c" opacity="0.67"/>
<ellipse cx="149.2" cy="124.1" rx="0.62" ry="0.61" fill="#858b8c" opacity="0.34"/>
<ellipse cx="106.9" cy="137.1" rx="0.81" ry="0.69" fill="#858b8c" opacity="0.49"/>
<ellipse cx="68.5" cy="161.4" rx="0.68" ry="0.64" fill="#858b8c" opacity="0.36"/>
<ellipse cx="88.8" cy="141.8" rx="0.48" ry="0.45" fill="#858b8c" opacity="0.41"/>
<ellipse cx="95.4" cy="125.9" rx="0.65" ry="0.62" fill="#858b8c" opacity="0.43"/>
<ellipse cx="68.5" cy="173.2" rx="0.73" ry="0.58" fill="#858b8c" opacity="0.38"/>
<ellipse cx="90.8" cy="131.8" rx="0.50" ry="0.50" fill="#858b8c" opacity="0.45"/>
<ellipse cx="72.5" cy="133.8" rx="0.85" ry="0.76" fill="#858b8c" opacity="0.32"/>
<ellipse cx="64.6" cy="167.5" rx="0.57" ry="0.34" fill="#858b8c" opacity="0.36"/>
<ellipse cx="81.0" cy="143.3" rx="0.86" ry="0.71" fill="#858b8c" opacity="0.39"/>
<ellipse cx="71.5" cy="154.6" rx="0.65" ry="0.44" fill="#858b8c" opacity="0.41"/>
<ellipse cx="133.0" cy="118.6" rx="0.81" ry="0.75" fill="#858b8c" opacity="0.43"/>
<ellipse cx="88.8" cy="127.1" rx="0.82" ry="0.54" fill="#858b8c" opacity="0.45"/>
<ellipse cx="74.7" cy="161.4" rx="0.81" ry="0.59" fill="#858b8c" opacity="0.65"/>
<ellipse cx="135.9" cy="119.0" rx="0.84" ry="0.67" fill="#858b8c" opacity="0.68"/>
<ellipse cx="156.8" cy="129.5" rx="0.49" ry="0.34" fill="#858b8c" opacity="0.34"/>
<ellipse cx="142.3" cy="117.0" rx="0.45" ry="0.30" fill="#858b8c" opacity="0.58"/>
<ellipse cx="64.7" cy="154.0" rx="0.69" ry="0.61" fill="#858b8c" opacity="0.51"/>
<ellipse cx="73.0" cy="171.5" rx="0.76" ry="0.49" fill="#858b8c" opacity="0.32"/>
<ellipse cx="102.3" cy="123.9" rx="0.70" ry="0.46" fill="#858b8c" opacity="0.64"/>
<ellipse cx="78.9" cy="168.7" rx="0.87" ry="0.67" fill="#858b8c" opacity="0.46"/>
<ellipse cx="86.3" cy="136.8" rx="0.62" ry="0.57" fill="#858b8c" opacity="0.69"/>
<ellipse cx="145.2" cy="118.5" rx="0.66" ry="0.64" fill="#858b8c" opacity="0.68"/>
<ellipse cx="87.2" cy="142.4" rx="0.72" ry="0.58" fill="#858b8c" opacity="0.45"/>
<ellipse cx="69.7" cy="143.1" rx="0.65" ry="0.43" fill="#858b8c" opacity="0.31"/>
<ellipse cx="148.8" cy="117.2" rx="0.72" ry="0.63" fill="#858b8c" opacity="0.41"/>
<ellipse cx="90.9" cy="134.9" rx="0.72" ry="0.61" fill="#858b8c" opacity="0.35"/>
<ellipse cx="114.8" cy="124.6" rx="0.46" ry="0.33" fill="#858b8c" opacity="0.35"/>
<ellipse cx="102.4" cy="133.7" rx="0.52" ry="0.43" fill="#858b8c" opacity="0.34"/>
 <!-- inner ear (red) nerves -->
 <path d="M214,86 C225,82 245,79.5 262,76 C270,74 276,72.5 282,71 L282,74 C270,77 255,81 240,86 C232,89 224,92 218,94 Z" fill="url(#sgNerve)"/>
 <path d="M228,97 C238,92 250,86 266,80 L268,83 C256,89 246,95 238,101 Z" fill="url(#sgNerve)"/>
 <path d="M236,90 C246,86 256,82 270,77" stroke="#e88a84" stroke-width="1" fill="none" opacity="0.8"/>
 <!-- semicircular canals -->
 <g fill="none" stroke="#c23c42" stroke-width="4.6" stroke-linecap="round">
  <path d="M201,88 C194,82 188,74 193,70 C198,66 204,74 208,84"/>
  <path d="M204,86 C196,72 200,57 210,57 C220,57 222,70 218,84"/>
  <path d="M207,80 C206,66 214,60 219,64 C224,68 220,78 214,88"/>
 </g>
 <g fill="none" stroke="#e4706c" stroke-width="2.9" stroke-linecap="round">
  <path d="M201,88 C194,82 188,74 193,70 C198,66 204,74 208,84"/>
  <path d="M204,86 C196,72 200,57 210,57 C220,57 222,70 218,84"/>
  <path d="M207,80 C206,66 214,60 219,64 C224,68 220,78 214,88"/>
 </g>
 <g fill="none" stroke="#f3a7a0" stroke-width="1.1" stroke-linecap="round" opacity="0.9">
  <path d="M203.5,84 C196,71 200,58 209.5,58"/>
  <path d="M192,71 C190,75 195,81 199,85"/>
 </g>
 <!-- vestibule -->
 <path d="M197,86 C202,82 212,82 218,86 C222,90 222,98 218,104 C212,110 204,112 200,108 C196,102 194,92 197,86 Z" fill="#d9504f" stroke="#b73a3e" stroke-width="0.6"/>
 <!-- cochlea -->
 <ellipse cx="224" cy="104" rx="18" ry="17" fill="url(#sgCoch)" stroke="#b8383c" stroke-width="0.8"/>
 <path d="M208,112 C212,120 225,124 236,117" stroke="#b23439" stroke-width="1.6" fill="none" filter="url(#b05)"/>
 <path d="M212,104 C212,94 222,89 229,93 C236,97 236,108 229,111 C223,113.5 218,109 219,104 C220,100 225,99 227,102 C228.5,104.5 226,107 224,105.5" stroke="#c2444a" stroke-width="1.3" fill="none"/>
 <path d="M214,103 C214.5,96 222,91.5 228,94.5" stroke="#f6bdb6" stroke-width="1.5" fill="none" filter="url(#b05)"/>
 <!-- middle ear (green) -->
 <path d="M160.5,78 C164,74.5 169,74 173,75.5 C178,76.5 182,78.5 184.6,82 C187,85 187.5,89 189.6,92 C192,95 196,96.5 197,99.6 C198,102.5 195.5,104.5 196,107 C197,110.5 202.5,112.5 203.6,116 C204.5,119 203.5,122.5 201,123.8 C197,125.5 192,125 188.4,123.8 C184,122 181.5,118 178,116 C175,114.5 171,115 168,113.6 C164,112 160,109.5 158,106 C156.5,103 155.8,100 156.6,97 C157.5,94.5 160.5,93 161.7,90.8 C163,88 159.5,86 159,83 C158.8,81 159.2,79.3 160.5,78 Z" fill="url(#sgGreen)" stroke="#1c7a42" stroke-width="0.8"/>
 <path d="M163,80 C168,78 175,80 180,85 C184,90 186,95 192,99" stroke="#8ad0a1" stroke-width="2.2" fill="none" filter="url(#b1)" opacity="0.85"/>
 <path d="M160,98 C163,104 168,109 174,110" stroke="#8ad0a1" stroke-width="2" fill="none" filter="url(#b1)" opacity="0.8"/>
 <path d="M168,84 C166,92 170,100 176,104 C180,107 184,112 186,118" stroke="#1b7840" stroke-width="1.8" fill="none" filter="url(#b05)" opacity="0.85"/>
 <path d="M172,90 C178,94 186,96 194,101" stroke="#1b7840" stroke-width="1.2" fill="none" opacity="0.7"/>
 <path d="M184,112 C190,116 196,118 200,119" stroke="#7cc895" stroke-width="2" fill="none" filter="url(#b1)" opacity="0.8"/>
</g>


<defs>
<linearGradient id="bgPinna" x1="25" y1="0" x2="150" y2="0" gradientUnits="userSpaceOnUse">
 <stop offset="0" stop-color="#ecc8c1"/><stop offset="0.2" stop-color="#f1d3cc"/><stop offset="0.5" stop-color="#edcac4"/><stop offset="1" stop-color="#e8beb7"/>
</linearGradient>
<linearGradient id="bgCanal" x1="115" y1="0" x2="268" y2="0" gradientUnits="userSpaceOnUse">
 <stop offset="0" stop-color="#e3b3ab" stop-opacity="0"/><stop offset="0.3" stop-color="#d8a19a"/><stop offset="0.55" stop-color="#cd8b83"/><stop offset="0.76" stop-color="#b9645a"/><stop offset="0.86" stop-color="#a24a40"/><stop offset="1" stop-color="#8d372d"/>
</linearGradient>
<linearGradient id="bgSmooth" x1="240" y1="0" x2="304" y2="0" gradientUnits="userSpaceOnUse"><stop offset="0" stop-color="#ebdaa8"/><stop offset="0.45" stop-color="#f5ecd0"/><stop offset="1" stop-color="#fff"/></linearGradient>
<clipPath id="bcpPinna"><path d="M76,205.5 C68,205 60.8,207.8 55,211 C49,215 45.5,218 42,224 C38,230 35.4,236 34,244 C32,254 32,262 31.5,272 C30.5,290 29.5,310 30,330 C30.5,350 32,370 37,392 C42,418 52,440 62,470 C70,492 80,510 96,519 C108,523 122,517 129,505 C133,497 135,480 135,464 L140,422 L250,405 L250,350 L150,300 L137,277.6 C135,276.5 133.5,275.5 131.8,273.8 C129,269.5 126.5,265 124.2,261 C121,255 117.5,249 114,243.3 C110,236 106,229 101.4,223 C97.5,218 93,213.5 88.7,210.3 C84.5,207.5 80,205.7 76,205.5 Z"/></clipPath>
<linearGradient id="bgMuscle2" x1="300" y1="410" x2="470" y2="500" gradientUnits="userSpaceOnUse"><stop offset="0" stop-color="#b04030"/><stop offset="0.35" stop-color="#bf4a33"/><stop offset="1" stop-color="#cc5a3e"/></linearGradient>
<radialGradient id="bgCoch2" cx="372" cy="362" r="30" gradientUnits="userSpaceOnUse"><stop offset="0" stop-color="#efd6d3"/><stop offset="0.6" stop-color="#cfa0a3"/><stop offset="1" stop-color="#ae7a82"/></radialGradient>
<radialGradient id="bgCoch3" cx="369" cy="372" r="13" gradientUnits="userSpaceOnUse"><stop offset="0" stop-color="#f3e0dd"/><stop offset="0.6" stop-color="#d4a8aa"/><stop offset="1" stop-color="#b5838a"/></radialGradient>
<pattern id="pFat" width="5" height="4.4" patternUnits="userSpaceOnUse"><rect width="5" height="4.4" fill="#f2dc7c"/><circle cx="1.3" cy="1.2" r="1.5" fill="#f8ecaa"/><circle cx="3.8" cy="3.4" r="1.5" fill="#f8ecaa"/></pattern>
<radialGradient id="bgCoch" cx="378" cy="356" r="42" gradientUnits="userSpaceOnUse">
 <stop offset="0" stop-color="#ecccc9"/><stop offset="0.55" stop-color="#cb999c"/><stop offset="1" stop-color="#a06c74"/>
</radialGradient>
<radialGradient id="bgCavity" cx="312" cy="372" r="50" gradientUnits="userSpaceOnUse">
 <stop offset="0" stop-color="#a8432f"/><stop offset="1" stop-color="#7f2a20"/>
</radialGradient>
<linearGradient id="mgTop" x1="0" y1="248" x2="0" y2="276" gradientUnits="userSpaceOnUse"><stop offset="0" stop-color="#fff" stop-opacity="0"/><stop offset="1" stop-color="#fff"/></linearGradient>
<mask id="mTop" maskUnits="userSpaceOnUse" x="0" y="0" width="632" height="551"><rect x="0" y="0" width="632" height="551" fill="url(#mgTop)"/></mask>
<linearGradient id="mgBotV" x1="0" y1="424" x2="0" y2="446" gradientUnits="userSpaceOnUse"><stop offset="0" stop-color="#fff"/><stop offset="1" stop-color="#fff" stop-opacity="0"/></linearGradient>
<linearGradient id="mgBotH" x1="140" y1="0" x2="162" y2="0" gradientUnits="userSpaceOnUse"><stop offset="0" stop-color="#fff"/><stop offset="1" stop-color="#fff" stop-opacity="0"/></linearGradient>
<mask id="mBot" maskUnits="userSpaceOnUse" x="0" y="0" width="632" height="551"><rect x="0" y="0" width="632" height="551" fill="url(#mgBotV)"/><rect x="0" y="0" width="632" height="551" fill="url(#mgBotH)"/></mask>
<linearGradient id="mgTube" x1="449" y1="430" x2="500" y2="470.5" gradientUnits="userSpaceOnUse"><stop offset="0" stop-color="#fff"/><stop offset="1" stop-color="#fff" stop-opacity="0"/></linearGradient>
<mask id="mTube" maskUnits="userSpaceOnUse" x="0" y="0" width="632" height="551"><rect x="0" y="0" width="632" height="551" fill="url(#mgTube)"/></mask>
<linearGradient id="mgNerve" x1="418" y1="0" x2="480" y2="0" gradientUnits="userSpaceOnUse"><stop offset="0" stop-color="#fff"/><stop offset="1" stop-color="#fff" stop-opacity="0"/></linearGradient>
<mask id="mNerve" maskUnits="userSpaceOnUse" x="0" y="0" width="632" height="551"><rect x="0" y="0" width="632" height="551" fill="url(#mgNerve)"/></mask>
</defs>
<g id="bigear">
 <!-- pinna -->
 <path d="M76,205.5 C68,205 60.8,207.8 55,211 C49,215 45.5,218 42,224 C38,230 35.4,236 34,244 C32,254 32,262 31.5,272 C30.5,290 29.5,310 30,330 C30.5,350 32,370 37,392 C42,418 52,440 62,470 C70,492 80,510 96,519 C108,523 122,517 129,505 C133,497 135,480 135,464 L140,422 L250,405 L250,350 L150,300 L137,277.6 C135,276.5 133.5,275.5 131.8,273.8 C129,269.5 126.5,265 124.2,261 C121,255 117.5,249 114,243.3 C110,236 106,229 101.4,223 C97.5,218 93,213.5 88.7,210.3 C84.5,207.5 80,205.7 76,205.5 Z" fill="url(#bgPinna)"/>
 <!-- helix inner shadow/hilite -->
 <g clip-path="url(#bcpPinna)">
 <path d="M76,211 C64,211 52,220 46,234 C40,250 37.5,272 37,296 C36.5,330 38,362 43,392 C48,418 57,440 67,468 C74,488 84,505 97,512" stroke="#f6e3dd" stroke-width="5.5" fill="none" filter="url(#b2)" opacity="0.95"/>
 <path d="M44,350 C48,380 56,408 68,432 C74,445 80,458 88,470" stroke="#f5e0da" stroke-width="9" fill="none" filter="url(#b3)" opacity="0.8"/>
 <path d="M70,226 C62,231 56,240 52,252 C47,268 44.5,284 43.5,300 C43,315 44,335 47,355 C50,375 54,388 58.4,396 C63,410 69,421 76,429 C79,432.5 82,436 84,439" stroke="#d9a59d" stroke-width="1.8" fill="none" filter="url(#b1)" opacity="0.8"/>
 <path d="M75,229 C67,235 61,246 57,260 C52,278 49.5,296 49,312 C48.5,330 50,345 53,360 C56,376 60,388 64,397 C69,410 75,420 82,428" stroke="#e2b5ad" stroke-width="6" fill="none" filter="url(#b2)" opacity="0.75"/>
 <path d="M88,240 C78,256 72,282 70,310 C68,345 72,380 82,410" stroke="#f5ded8" stroke-width="11" fill="none" filter="url(#b3)" opacity="0.9"/>
 <path d="M74,224 C82,236 90,254 96,274 C100,290 104,310 106,330" stroke="#e3b7af" stroke-width="5" fill="none" filter="url(#b3)" opacity="0.6"/>
 <path d="M78,207 C88,208.5 97,215 104,225 C112,236 120,252 130,270" stroke="#e4b8b0" stroke-width="2" fill="none" filter="url(#b1)" opacity="0.7"/>
 <path d="M40,400 C46,424 54,444 64,472 C72,494 84,512 98,517 C110,520 122,514 128,504" stroke="#dfb0a8" stroke-width="2.5" fill="none" filter="url(#b1)" opacity="0.6"/>
 </g>
 <!-- concha darker -->
 <path d="M104,262 C112,280 106,310 112,336 C118,354 138,366 165,366 L250,358 L250,392 L190,402 C150,412 112,416 102,440 C94,420 90,380 90,340 C90,305 96,280 104,262 Z" fill="#e0aea7" filter="url(#b3)" opacity="0.55"/>
 <!-- lobe notch -->
 <path d="M97,408 C95,420 90,432 82,440 C90,440 100,432 104,420 Z" fill="#f0cfc7"/>
 <path d="M97,407 C95,420 90,432 81,441" stroke="#cf958d" stroke-width="1" fill="none"/>
 <!-- ear canal -->
 <path d="M112,345 L127,351 L147,361 L175.5,362.8 L204,357 L227,352.8 L244,355.7 L276,358 L290,394 L244,390 L221,391 L204,397 L175.5,405 L152,410 L133,414 L107,420 Z" fill="url(#bgCanal)"/>
 <path d="M140,362 C165,368 200,362 227,357 C240,355 255,359 268,361" stroke="#9c4a42" stroke-width="5" fill="none" filter="url(#b2)" opacity="0.45"/>
 <path d="M130,395 C160,392 195,384 225,378 C240,376 255,377 266,378" stroke="#e7b9b0" stroke-width="7" fill="none" filter="url(#b3)" opacity="0.5"/>

 <g mask="url(#mTop)">
 <!-- upper fat: skin rim -->
 <path d="M109,303.6 C108,297 111,292 116,289 C122,285 128,282 133,279 C139,275 144,271 146.5,266 C148,262 148,252 149.5,244 L176,244 L180,330 L190,336 L214,346 L250,349 L272,352 L274,358 C250,356 215,357 201.5,357.5 C188,360 176,362 163.5,362.5 C152,363 141,361 133,357 C124,352 117,343 113.5,333 C110.5,324 109.5,313 109,303.6 Z" fill="#ecb9ae" stroke="#b98078" stroke-width="0.7"/>
 <!-- upper fat yellow -->
 <path d="M112.5,304 C112,298 114,294 118,291.5 C124,288 130,285 135,281.5 C141,277.5 146,273 148.5,268 C150,263 150.5,252 152,244 L174,244 L176,300 L181,325 L190,338 L201,345 L214,348.5 L216,352 L203,355 C190,357.5 176,359 163.5,359.5 C152,360 142,358 135,354.5 C126,350 120,341 116.5,332 C113.5,323 113,313 112.5,304 Z" fill="url(#pFat)" stroke="#9c8a4a" stroke-width="0.7"/>
 <ellipse cx="127" cy="324" rx="6.5" ry="14" fill="#efe7c6" stroke="#9c8a4a" stroke-width="0.8" transform="rotate(8 127 324)"/>
 <ellipse cx="146" cy="347" rx="13" ry="6" fill="#efe7c6" stroke="#9c8a4a" stroke-width="0.8" transform="rotate(22 146 347)"/>
 <ellipse cx="162.1" cy="316.7" rx="1.18" ry="1.16" fill="#4a5648" opacity="0.66"/>
<ellipse cx="175.9" cy="351.2" rx="1.09" ry="0.82" fill="#4a5648" opacity="0.63"/>
<ellipse cx="142.9" cy="348.8" rx="1.23" ry="1.15" fill="#4a5648" opacity="0.82"/>
<ellipse cx="177.6" cy="328.0" rx="0.85" ry="0.60" fill="#4a5648" opacity="0.80"/>
<ellipse cx="159.3" cy="277.2" rx="1.29" ry="0.91" fill="#4a5648" opacity="0.70"/>
<ellipse cx="174.3" cy="270.0" rx="1.34" ry="0.89" fill="#4a5648" opacity="0.80"/>
<ellipse cx="166.5" cy="317.0" rx="1.33" ry="1.02" fill="#4a5648" opacity="0.73"/>
<ellipse cx="174.8" cy="270.4" rx="1.22" ry="0.87" fill="#4a5648" opacity="0.54"/>
<ellipse cx="135.5" cy="345.6" rx="0.95" ry="0.67" fill="#4a5648" opacity="0.79"/>
<ellipse cx="165.1" cy="324.3" rx="0.68" ry="0.60" fill="#4a5648" opacity="0.70"/>
<ellipse cx="140.3" cy="324.8" rx="0.82" ry="0.80" fill="#4a5648" opacity="0.65"/>
<ellipse cx="150.5" cy="316.9" rx="1.25" ry="0.98" fill="#4a5648" opacity="0.80"/>
<ellipse cx="171.5" cy="300.5" rx="1.36" ry="0.88" fill="#4a5648" opacity="0.69"/>
<ellipse cx="166.0" cy="275.9" rx="1.14" ry="1.14" fill="#4a5648" opacity="0.52"/>
<ellipse cx="156.0" cy="333.1" rx="0.70" ry="0.53" fill="#4a5648" opacity="0.75"/>
<ellipse cx="142.0" cy="340.2" rx="0.63" ry="0.40" fill="#4a5648" opacity="0.69"/>
<ellipse cx="170.9" cy="347.8" rx="0.63" ry="0.49" fill="#4a5648" opacity="0.69"/>
<ellipse cx="164.5" cy="332.0" rx="0.87" ry="0.59" fill="#4a5648" opacity="0.87"/>
<ellipse cx="136.6" cy="340.2" rx="0.70" ry="0.56" fill="#4a5648" opacity="0.57"/>
<ellipse cx="146.1" cy="277.7" rx="1.34" ry="1.23" fill="#4a5648" opacity="0.69"/>
<ellipse cx="142.0" cy="349.6" rx="0.78" ry="0.66" fill="#4a5648" opacity="0.86"/>
<ellipse cx="176.6" cy="336.0" rx="1.10" ry="1.04" fill="#4a5648" opacity="0.71"/>
<ellipse cx="151.3" cy="271.4" rx="1.33" ry="1.16" fill="#4a5648" opacity="0.82"/>
<ellipse cx="165.7" cy="284.3" rx="0.97" ry="0.96" fill="#4a5648" opacity="0.83"/>
<ellipse cx="174.3" cy="277.4" rx="1.15" ry="0.87" fill="#4a5648" opacity="0.72"/>
<ellipse cx="152.6" cy="309.3" rx="0.81" ry="0.67" fill="#4a5648" opacity="0.65"/>
<ellipse cx="166.6" cy="318.6" rx="0.73" ry="0.55" fill="#4a5648" opacity="0.85"/>
<ellipse cx="176.1" cy="356.2" rx="0.71" ry="0.70" fill="#4a5648" opacity="0.73"/>
<ellipse cx="148.5" cy="314.6" rx="0.85" ry="0.58" fill="#4a5648" opacity="0.51"/>
<ellipse cx="136.0" cy="289.3" rx="1.10" ry="1.08" fill="#4a5648" opacity="0.73"/>
<ellipse cx="162.9" cy="296.8" rx="1.36" ry="1.11" fill="#4a5648" opacity="0.75"/>
<ellipse cx="171.4" cy="326.3" rx="0.89" ry="0.64" fill="#4a5648" opacity="0.74"/>
<ellipse cx="176.5" cy="285.4" rx="1.38" ry="0.83" fill="#4a5648" opacity="0.53"/>
<ellipse cx="156.6" cy="281.8" rx="1.01" ry="0.94" fill="#4a5648" opacity="0.55"/>
<ellipse cx="162.1" cy="327.7" rx="1.34" ry="1.17" fill="#4a5648" opacity="0.90"/>
<ellipse cx="164.2" cy="262.2" rx="0.64" ry="0.63" fill="#4a5648" opacity="0.67"/>
<ellipse cx="145.0" cy="316.6" rx="0.61" ry="0.58" fill="#4a5648" opacity="0.67"/>
<ellipse cx="158.3" cy="341.1" rx="0.61" ry="0.41" fill="#4a5648" opacity="0.58"/>
<ellipse cx="169.9" cy="271.8" rx="1.35" ry="1.28" fill="#4a5648" opacity="0.61"/>
<ellipse cx="154.7" cy="293.1" rx="1.37" ry="1.21" fill="#4a5648" opacity="0.66"/>
<ellipse cx="133.2" cy="341.7" rx="1.38" ry="1.24" fill="#4a5648" opacity="0.54"/>
<ellipse cx="143.0" cy="276.2" rx="0.89" ry="0.87" fill="#4a5648" opacity="0.76"/>
<ellipse cx="159.9" cy="324.7" rx="0.73" ry="0.60" fill="#4a5648" opacity="0.79"/>
<ellipse cx="147.2" cy="348.4" rx="0.80" ry="0.53" fill="#4a5648" opacity="0.56"/>
<ellipse cx="137.2" cy="318.5" rx="1.24" ry="0.99" fill="#4a5648" opacity="0.56"/>
 <!-- muscle strip -->
 <path d="M160.5,244 L174.5,244 C176,270 179,292 184.4,313.8 C186,320 187,325 188.5,330 C190,334 192,336 195,338 L192,339 C186,337 183,333 180.6,329 C176,320 173,312 170.5,306 C165,285 162,265 160.5,244 Z" fill="#c8573c" stroke="#8f3324" stroke-width="0.6"/>
 <path d="M166,246 C168,275 173,300 181,322" stroke="#e58b6c" stroke-width="2.2" fill="none" filter="url(#b05)" opacity="0.8"/>
 <path d="M171,246 C173,275 178,300 185,322" stroke="#a83f2c" stroke-width="0.8" fill="none" opacity="0.7"/>
 <!-- smooth bone right of spongy -->
 <path d="M196,256 C200,268 204,279 209.4,285.8 C213,290 218,291.5 222.5,292.3 C230,293.8 236,294 243,294.3 L262,296 L300,298 L306,320 L250,322 C238,320 230,318 222,313 C215,308 210,298 206.6,288 C203,276 200,266 196,256 Z" fill="url(#bgSmooth)"/>
 <path d="M196,256 C200,268 204,279 209.4,285.8 C213,290 218,291.5 222.5,292.3 C230,293.8 236,294 243,294.3" fill="none" stroke="#a8915a" stroke-width="0.7" opacity="0.9"/>
 <path d="M212,293 C220,300 232,304 246,305 C256,306 266,306 276,307" stroke="#dcc78c" stroke-width="4" fill="none" filter="url(#b2)" opacity="0.7"/>
 <!-- bone upper (spongy) -->
 <path d="M176,244 L193,244 C196,256 200,270 204.5,281 C207,288 209.5,292.5 212.7,297 C216,302 220.5,307 225.8,310 C231,314 236,317 242,318.4 L268,323 C272,328 274,340 272,352 L241.5,349 C232,348.5 224,347.5 216,345.5 C206,343 197,339 191,334 C187,330 185,322 183,312 C180,292 178,270 176,244 Z" fill="#ecd9a0" stroke="#9c8346" stroke-width="0.7"/>
 <ellipse cx="231.0" cy="317.0" rx="0.66" ry="0.52" fill="#6b5226" opacity="0.77"/>
<ellipse cx="229.1" cy="313.3" rx="0.88" ry="0.61" fill="#6b5226" opacity="0.59"/>
<ellipse cx="201.1" cy="303.2" rx="0.81" ry="0.49" fill="#6b5226" opacity="0.71"/>
<ellipse cx="212.3" cy="338.2" rx="0.69" ry="0.55" fill="#6b5226" opacity="0.70"/>
<ellipse cx="207.4" cy="329.2" rx="0.63" ry="0.59" fill="#6b5226" opacity="0.48"/>
<ellipse cx="255.1" cy="334.1" rx="0.91" ry="0.82" fill="#6b5226" opacity="0.78"/>
<ellipse cx="249.5" cy="322.9" rx="1.23" ry="1.17" fill="#6b5226" opacity="0.51"/>
<ellipse cx="217.9" cy="330.4" rx="1.20" ry="0.90" fill="#6b5226" opacity="0.72"/>
<ellipse cx="215.6" cy="307.5" rx="0.81" ry="0.74" fill="#6b5226" opacity="0.59"/>
<ellipse cx="209.9" cy="336.3" rx="1.17" ry="0.80" fill="#6b5226" opacity="0.88"/>
<ellipse cx="218.7" cy="343.1" rx="0.51" ry="0.42" fill="#6b5226" opacity="0.47"/>
<ellipse cx="224.8" cy="344.0" rx="1.12" ry="1.12" fill="#6b5226" opacity="0.69"/>
<ellipse cx="212.8" cy="311.5" rx="0.78" ry="0.68" fill="#6b5226" opacity="0.88"/>
<ellipse cx="257.7" cy="348.4" rx="0.89" ry="0.76" fill="#6b5226" opacity="0.65"/>
<ellipse cx="227.6" cy="333.6" rx="0.64" ry="0.63" fill="#6b5226" opacity="0.59"/>
<ellipse cx="241.3" cy="334.1" rx="1.29" ry="0.99" fill="#6b5226" opacity="0.85"/>
<ellipse cx="195.5" cy="281.0" rx="0.91" ry="0.61" fill="#6b5226" opacity="0.68"/>
<ellipse cx="197.7" cy="315.0" rx="0.98" ry="0.98" fill="#6b5226" opacity="0.61"/>
<ellipse cx="217.4" cy="330.8" rx="0.75" ry="0.45" fill="#6b5226" opacity="0.76"/>
<ellipse cx="208.2" cy="336.2" rx="0.97" ry="0.66" fill="#6b5226" opacity="0.75"/>
<ellipse cx="204.9" cy="316.7" rx="0.93" ry="0.77" fill="#6b5226" opacity="0.90"/>
<ellipse cx="195.5" cy="327.9" rx="0.59" ry="0.39" fill="#6b5226" opacity="0.50"/>
<ellipse cx="226.9" cy="334.3" rx="0.99" ry="0.62" fill="#6b5226" opacity="0.81"/>
<ellipse cx="209.8" cy="323.5" rx="0.78" ry="0.55" fill="#6b5226" opacity="0.53"/>
<ellipse cx="219.8" cy="314.0" rx="0.70" ry="0.68" fill="#6b5226" opacity="0.47"/>
<ellipse cx="259.3" cy="333.6" rx="0.74" ry="0.73" fill="#6b5226" opacity="0.72"/>
<ellipse cx="202.9" cy="291.0" rx="1.07" ry="0.78" fill="#6b5226" opacity="0.55"/>
<ellipse cx="196.9" cy="287.8" rx="0.65" ry="0.47" fill="#6b5226" opacity="0.89"/>
<ellipse cx="198.4" cy="280.4" rx="0.69" ry="0.60" fill="#6b5226" opacity="0.47"/>
<ellipse cx="205.2" cy="335.5" rx="0.60" ry="0.56" fill="#6b5226" opacity="0.65"/>
<ellipse cx="212.4" cy="324.2" rx="0.80" ry="0.55" fill="#6b5226" opacity="0.88"/>
<ellipse cx="201.5" cy="297.3" rx="0.60" ry="0.43" fill="#6b5226" opacity="0.77"/>
<ellipse cx="205.3" cy="329.2" rx="0.81" ry="0.67" fill="#6b5226" opacity="0.75"/>
<ellipse cx="208.7" cy="291.0" rx="0.57" ry="0.53" fill="#6b5226" opacity="0.53"/>
<ellipse cx="209.6" cy="318.3" rx="0.59" ry="0.44" fill="#6b5226" opacity="0.70"/>
<ellipse cx="187.7" cy="283.1" rx="0.68" ry="0.60" fill="#6b5226" opacity="0.51"/>
<ellipse cx="206.3" cy="292.3" rx="1.23" ry="1.17" fill="#6b5226" opacity="0.80"/>
<ellipse cx="238.7" cy="321.9" rx="0.70" ry="0.52" fill="#6b5226" opacity="0.83"/>
<ellipse cx="245.1" cy="323.3" rx="0.53" ry="0.35" fill="#6b5226" opacity="0.47"/>
<ellipse cx="199.0" cy="282.3" rx="0.80" ry="0.58" fill="#6b5226" opacity="0.47"/>
<ellipse cx="219.4" cy="320.4" rx="0.78" ry="0.73" fill="#6b5226" opacity="0.45"/>
<ellipse cx="260.6" cy="327.0" rx="0.57" ry="0.43" fill="#6b5226" opacity="0.76"/>
<ellipse cx="246.3" cy="334.9" rx="0.72" ry="0.71" fill="#6b5226" opacity="0.49"/>
<ellipse cx="218.5" cy="345.0" rx="1.05" ry="0.98" fill="#6b5226" opacity="0.78"/>
<ellipse cx="186.7" cy="321.8" rx="0.84" ry="0.82" fill="#6b5226" opacity="0.68"/>
<ellipse cx="193.0" cy="328.2" rx="0.53" ry="0.49" fill="#6b5226" opacity="0.77"/>
<ellipse cx="204.5" cy="306.6" rx="1.28" ry="1.04" fill="#6b5226" opacity="0.74"/>
<ellipse cx="199.3" cy="283.1" rx="0.61" ry="0.53" fill="#6b5226" opacity="0.77"/>
<ellipse cx="207.7" cy="340.5" rx="0.61" ry="0.45" fill="#6b5226" opacity="0.70"/>
<ellipse cx="221.7" cy="328.6" rx="1.16" ry="0.83" fill="#6b5226" opacity="0.50"/>
<ellipse cx="187.2" cy="280.1" rx="0.66" ry="0.51" fill="#6b5226" opacity="0.77"/>
<ellipse cx="191.7" cy="284.4" rx="0.87" ry="0.58" fill="#6b5226" opacity="0.61"/>
<ellipse cx="267.3" cy="327.0" rx="0.57" ry="0.56" fill="#6b5226" opacity="0.77"/>
<ellipse cx="198.3" cy="306.3" rx="0.51" ry="0.43" fill="#6b5226" opacity="0.86"/>
<ellipse cx="236.0" cy="345.5" rx="1.02" ry="0.71" fill="#6b5226" opacity="0.56"/>
<ellipse cx="248.6" cy="336.0" rx="0.74" ry="0.63" fill="#6b5226" opacity="0.53"/>
<ellipse cx="254.7" cy="344.7" rx="0.63" ry="0.59" fill="#6b5226" opacity="0.80"/>
<ellipse cx="197.9" cy="334.5" rx="0.76" ry="0.62" fill="#6b5226" opacity="0.62"/>
<ellipse cx="213.8" cy="335.1" rx="0.69" ry="0.57" fill="#6b5226" opacity="0.47"/>
<ellipse cx="236.0" cy="334.0" rx="1.06" ry="1.04" fill="#6b5226" opacity="0.86"/>
<ellipse cx="195.5" cy="282.0" rx="0.96" ry="0.84" fill="#6b5226" opacity="0.49"/>
<ellipse cx="196.1" cy="296.3" rx="1.28" ry="0.79" fill="#6b5226" opacity="0.49"/>
<ellipse cx="254.3" cy="337.5" rx="1.13" ry="0.81" fill="#6b5226" opacity="0.64"/>
<ellipse cx="219.7" cy="318.6" rx="1.16" ry="0.77" fill="#6b5226" opacity="0.86"/>
<ellipse cx="207.4" cy="296.3" rx="0.95" ry="0.64" fill="#6b5226" opacity="0.61"/>
<ellipse cx="189.3" cy="284.4" rx="0.87" ry="0.84" fill="#6b5226" opacity="0.89"/>
<ellipse cx="207.5" cy="309.1" rx="1.26" ry="1.08" fill="#6b5226" opacity="0.67"/>
<ellipse cx="198.2" cy="319.9" rx="0.86" ry="0.74" fill="#6b5226" opacity="0.49"/>
<ellipse cx="214.0" cy="310.1" rx="0.83" ry="0.69" fill="#6b5226" opacity="0.69"/>
<ellipse cx="190.2" cy="305.1" rx="0.70" ry="0.58" fill="#6b5226" opacity="0.67"/>
<ellipse cx="201.5" cy="309.3" rx="0.59" ry="0.49" fill="#6b5226" opacity="0.68"/>
<ellipse cx="188.9" cy="292.8" rx="0.56" ry="0.53" fill="#6b5226" opacity="0.65"/>
<ellipse cx="229.3" cy="323.5" rx="1.11" ry="1.10" fill="#6b5226" opacity="0.50"/>
<ellipse cx="230.4" cy="329.5" rx="0.61" ry="0.38" fill="#6b5226" opacity="0.80"/>
<ellipse cx="202.4" cy="289.2" rx="0.51" ry="0.35" fill="#6b5226" opacity="0.72"/>
<ellipse cx="207.8" cy="322.7" rx="0.84" ry="0.71" fill="#6b5226" opacity="0.85"/>
<ellipse cx="260.9" cy="339.1" rx="0.63" ry="0.47" fill="#6b5226" opacity="0.79"/>
<ellipse cx="214.1" cy="325.7" rx="1.26" ry="0.78" fill="#6b5226" opacity="0.77"/>
<ellipse cx="229.2" cy="332.3" rx="0.59" ry="0.51" fill="#6b5226" opacity="0.87"/>
<ellipse cx="220.4" cy="335.8" rx="0.97" ry="0.59" fill="#6b5226" opacity="0.50"/>
<ellipse cx="191.5" cy="332.1" rx="0.65" ry="0.46" fill="#6b5226" opacity="0.70"/>
<ellipse cx="228.3" cy="321.0" rx="1.15" ry="0.69" fill="#6b5226" opacity="0.88"/>
<ellipse cx="225.2" cy="339.3" rx="1.14" ry="0.77" fill="#6b5226" opacity="0.47"/>
<ellipse cx="215.8" cy="339.3" rx="0.99" ry="0.72" fill="#6b5226" opacity="0.48"/>
<ellipse cx="196.6" cy="288.1" rx="0.87" ry="0.66" fill="#6b5226" opacity="0.71"/>
<ellipse cx="183.8" cy="297.9" rx="1.29" ry="0.85" fill="#6b5226" opacity="0.47"/>
<ellipse cx="205.5" cy="302.0" rx="0.71" ry="0.58" fill="#6b5226" opacity="0.71"/>
<ellipse cx="184.9" cy="308.1" rx="1.12" ry="1.02" fill="#6b5226" opacity="0.84"/>
<ellipse cx="250.4" cy="339.3" rx="1.25" ry="0.90" fill="#6b5226" opacity="0.76"/>
<ellipse cx="247.6" cy="326.0" rx="0.91" ry="0.67" fill="#6b5226" opacity="0.74"/>
<ellipse cx="187.2" cy="285.7" rx="0.76" ry="0.60" fill="#6b5226" opacity="0.89"/>
<ellipse cx="202.2" cy="286.9" rx="0.61" ry="0.58" fill="#6b5226" opacity="0.45"/>
<ellipse cx="188.9" cy="269.9" rx="0.96" ry="0.72" fill="#6b5226" opacity="0.89"/>
<ellipse cx="223.7" cy="341.9" rx="0.72" ry="0.44" fill="#6b5226" opacity="0.57"/>
<ellipse cx="196.2" cy="278.8" rx="1.06" ry="0.81" fill="#6b5226" opacity="0.55"/>
<ellipse cx="199.2" cy="312.3" rx="1.19" ry="0.81" fill="#6b5226" opacity="0.74"/>
<ellipse cx="245.1" cy="348.3" rx="0.98" ry="0.91" fill="#6b5226" opacity="0.49"/>
<ellipse cx="193.8" cy="270.8" rx="0.93" ry="0.80" fill="#6b5226" opacity="0.84"/>
<ellipse cx="210.1" cy="326.9" rx="1.02" ry="0.89" fill="#6b5226" opacity="0.63"/>
<ellipse cx="224.5" cy="311.8" rx="0.71" ry="0.43" fill="#6b5226" opacity="0.66"/>
<ellipse cx="234.8" cy="324.4" rx="0.76" ry="0.51" fill="#6b5226" opacity="0.49"/>
<ellipse cx="194.3" cy="328.7" rx="0.57" ry="0.44" fill="#6b5226" opacity="0.82"/>
<ellipse cx="229.7" cy="317.7" rx="0.98" ry="0.88" fill="#6b5226" opacity="0.60"/>
<ellipse cx="204.2" cy="323.1" rx="1.11" ry="0.80" fill="#6b5226" opacity="0.80"/>
<ellipse cx="227.0" cy="346.1" rx="0.61" ry="0.48" fill="#6b5226" opacity="0.45"/>
<ellipse cx="238.4" cy="329.4" rx="0.79" ry="0.55" fill="#6b5226" opacity="0.90"/>
<ellipse cx="184.4" cy="265.4" rx="0.55" ry="0.45" fill="#6b5226" opacity="0.68"/>
<ellipse cx="197.3" cy="325.8" rx="1.24" ry="0.76" fill="#6b5226" opacity="0.52"/>
<ellipse cx="191.3" cy="325.3" rx="0.55" ry="0.42" fill="#6b5226" opacity="0.74"/>
<ellipse cx="261.0" cy="346.5" rx="1.00" ry="0.70" fill="#6b5226" opacity="0.55"/>
<ellipse cx="204.6" cy="295.4" rx="0.69" ry="0.62" fill="#6b5226" opacity="0.54"/>
<ellipse cx="256.2" cy="338.9" rx="0.71" ry="0.66" fill="#6b5226" opacity="0.79"/>
<ellipse cx="223.8" cy="341.1" rx="0.63" ry="0.53" fill="#6b5226" opacity="0.76"/>
<ellipse cx="221.0" cy="309.9" rx="1.21" ry="1.15" fill="#6b5226" opacity="0.54"/>
<ellipse cx="213.0" cy="330.0" rx="1.19" ry="1.13" fill="#6b5226" opacity="0.53"/>
<ellipse cx="184.1" cy="263.2" rx="1.28" ry="1.23" fill="#6b5226" opacity="0.45"/>
<ellipse cx="195.0" cy="325.6" rx="0.58" ry="0.50" fill="#6b5226" opacity="0.53"/>
<ellipse cx="189.8" cy="286.0" rx="1.23" ry="1.18" fill="#6b5226" opacity="0.77"/>
<ellipse cx="202.2" cy="331.2" rx="1.05" ry="0.84" fill="#6b5226" opacity="0.47"/>
<ellipse cx="201.9" cy="295.0" rx="0.58" ry="0.58" fill="#6b5226" opacity="0.46"/>
<ellipse cx="209.2" cy="339.9" rx="0.60" ry="0.39" fill="#6b5226" opacity="0.67"/>
<ellipse cx="191.7" cy="287.4" rx="0.90" ry="0.66" fill="#6b5226" opacity="0.86"/>
<ellipse cx="258.0" cy="325.1" rx="0.72" ry="0.51" fill="#6b5226" opacity="0.53"/>
<ellipse cx="187.9" cy="256.3" rx="0.91" ry="0.75" fill="#6b5226" opacity="0.63"/>
<ellipse cx="257.2" cy="323.8" rx="0.82" ry="0.63" fill="#6b5226" opacity="0.59"/>
<ellipse cx="182.5" cy="312.8" rx="1.24" ry="1.05" fill="#6b5226" opacity="0.56"/>
<ellipse cx="254.5" cy="330.4" rx="1.23" ry="1.08" fill="#6b5226" opacity="0.47"/>
<ellipse cx="209.9" cy="316.6" rx="0.94" ry="0.93" fill="#6b5226" opacity="0.59"/>
<ellipse cx="202.2" cy="315.0" rx="1.09" ry="0.97" fill="#6b5226" opacity="0.62"/>
<ellipse cx="215.8" cy="304.6" rx="0.99" ry="0.72" fill="#6b5226" opacity="0.75"/>
<ellipse cx="201.2" cy="313.3" rx="0.71" ry="0.56" fill="#6b5226" opacity="0.86"/>
<ellipse cx="227.4" cy="333.3" rx="0.69" ry="0.64" fill="#6b5226" opacity="0.53"/>
<ellipse cx="221.6" cy="316.1" rx="1.16" ry="1.10" fill="#6b5226" opacity="0.85"/>
<ellipse cx="185.7" cy="290.1" rx="1.17" ry="0.76" fill="#6b5226" opacity="0.82"/>
<ellipse cx="195.2" cy="277.1" rx="0.58" ry="0.54" fill="#6b5226" opacity="0.61"/>
<ellipse cx="189.6" cy="291.6" rx="1.30" ry="1.01" fill="#6b5226" opacity="0.76"/>
<ellipse cx="223.1" cy="331.8" rx="1.11" ry="0.97" fill="#6b5226" opacity="0.52"/>
<ellipse cx="213.6" cy="304.1" rx="0.69" ry="0.51" fill="#6b5226" opacity="0.62"/>
<ellipse cx="199.3" cy="309.1" rx="0.55" ry="0.48" fill="#6b5226" opacity="0.53"/>
<ellipse cx="205.6" cy="284.4" rx="0.69" ry="0.44" fill="#6b5226" opacity="0.83"/>
<ellipse cx="236.7" cy="337.9" rx="0.66" ry="0.61" fill="#6b5226" opacity="0.64"/>
<ellipse cx="185.8" cy="296.3" rx="0.79" ry="0.57" fill="#6b5226" opacity="0.77"/>
<ellipse cx="217.1" cy="316.8" rx="1.15" ry="0.87" fill="#6b5226" opacity="0.61"/>
<ellipse cx="231.8" cy="344.5" rx="0.65" ry="0.58" fill="#6b5226" opacity="0.89"/>
<ellipse cx="214.0" cy="318.6" rx="0.76" ry="0.69" fill="#6b5226" opacity="0.48"/>
<ellipse cx="214.6" cy="304.6" rx="0.90" ry="0.81" fill="#6b5226" opacity="0.86"/>
<ellipse cx="184.2" cy="311.3" rx="0.87" ry="0.81" fill="#6b5226" opacity="0.66"/>
<ellipse cx="185.5" cy="320.0" rx="0.94" ry="0.86" fill="#6b5226" opacity="0.80"/>
<ellipse cx="192.2" cy="274.1" rx="0.56" ry="0.36" fill="#6b5226" opacity="0.82"/>
<ellipse cx="189.6" cy="327.3" rx="0.95" ry="0.83" fill="#6b5226" opacity="0.47"/>
<ellipse cx="186.7" cy="321.1" rx="0.83" ry="0.83" fill="#6b5226" opacity="0.71"/>
<ellipse cx="252.2" cy="339.2" rx="0.62" ry="0.50" fill="#6b5226" opacity="0.60"/>
<ellipse cx="186.4" cy="282.4" rx="1.19" ry="1.12" fill="#6b5226" opacity="0.81"/>
<ellipse cx="186.5" cy="305.7" rx="0.80" ry="0.64" fill="#6b5226" opacity="0.66"/>
<ellipse cx="186.4" cy="283.4" rx="0.93" ry="0.77" fill="#6b5226" opacity="0.63"/>
<ellipse cx="243.1" cy="332.2" rx="0.97" ry="0.95" fill="#6b5226" opacity="0.65"/>
<ellipse cx="220.3" cy="339.8" rx="0.55" ry="0.47" fill="#6b5226" opacity="0.65"/>
<ellipse cx="188.2" cy="311.6" rx="0.64" ry="0.53" fill="#6b5226" opacity="0.87"/>
<ellipse cx="190.7" cy="261.5" rx="1.13" ry="0.86" fill="#6b5226" opacity="0.88"/>
<ellipse cx="202.0" cy="310.2" rx="0.75" ry="0.50" fill="#6b5226" opacity="0.70"/>
<ellipse cx="214.7" cy="316.1" rx="0.68" ry="0.43" fill="#6b5226" opacity="0.70"/>
<ellipse cx="221.9" cy="324.8" rx="0.84" ry="0.54" fill="#6b5226" opacity="0.76"/>
<ellipse cx="207.0" cy="286.8" rx="1.10" ry="1.07" fill="#6b5226" opacity="0.67"/>
<ellipse cx="190.0" cy="300.5" rx="1.19" ry="0.97" fill="#6b5226" opacity="0.72"/>
<ellipse cx="189.6" cy="266.0" rx="0.72" ry="0.67" fill="#6b5226" opacity="0.85"/>
<ellipse cx="184.8" cy="311.9" rx="1.27" ry="1.25" fill="#6b5226" opacity="0.60"/>
<ellipse cx="210.6" cy="297.0" rx="0.70" ry="0.47" fill="#6b5226" opacity="0.78"/>
<ellipse cx="188.0" cy="307.9" rx="0.58" ry="0.53" fill="#6b5226" opacity="0.70"/>
<ellipse cx="184.9" cy="303.3" rx="0.58" ry="0.38" fill="#6b5226" opacity="0.74"/>
<ellipse cx="214.2" cy="318.3" rx="0.63" ry="0.62" fill="#6b5226" opacity="0.53"/>
<ellipse cx="210.5" cy="336.2" rx="1.20" ry="0.79" fill="#6b5226" opacity="0.67"/>
<ellipse cx="192.1" cy="301.6" rx="0.93" ry="0.73" fill="#6b5226" opacity="0.50"/>
<ellipse cx="196.1" cy="305.5" rx="0.91" ry="0.61" fill="#6b5226" opacity="0.62"/>
<ellipse cx="192.9" cy="276.0" rx="1.20" ry="1.14" fill="#6b5226" opacity="0.68"/>
<ellipse cx="224.0" cy="331.1" rx="0.96" ry="0.66" fill="#6b5226" opacity="0.76"/>
<ellipse cx="215.8" cy="303.8" rx="0.73" ry="0.46" fill="#6b5226" opacity="0.85"/>
<ellipse cx="233.2" cy="330.4" rx="1.07" ry="0.75" fill="#6b5226" opacity="0.48"/>
<ellipse cx="185.5" cy="313.8" rx="1.05" ry="0.78" fill="#6b5226" opacity="0.82"/>
<ellipse cx="203.1" cy="325.4" rx="1.04" ry="0.77" fill="#6b5226" opacity="0.52"/>
<ellipse cx="194.1" cy="271.8" rx="0.68" ry="0.67" fill="#6b5226" opacity="0.60"/>
<ellipse cx="267.8" cy="331.2" rx="0.88" ry="0.81" fill="#6b5226" opacity="0.67"/>
<ellipse cx="260.1" cy="327.1" rx="1.01" ry="0.86" fill="#6b5226" opacity="0.54"/>
<ellipse cx="254.7" cy="330.7" rx="0.57" ry="0.42" fill="#6b5226" opacity="0.77"/>
<ellipse cx="239.9" cy="326.6" rx="0.61" ry="0.59" fill="#6b5226" opacity="0.82"/>
<ellipse cx="259.8" cy="326.5" rx="1.17" ry="0.97" fill="#6b5226" opacity="0.81"/>
<ellipse cx="219.4" cy="334.5" rx="1.13" ry="0.81" fill="#6b5226" opacity="0.84"/>
<ellipse cx="265.3" cy="330.7" rx="0.70" ry="0.49" fill="#6b5226" opacity="0.83"/>
<ellipse cx="199.0" cy="297.8" rx="0.69" ry="0.66" fill="#6b5226" opacity="0.67"/>
<ellipse cx="240.9" cy="323.0" rx="0.81" ry="0.75" fill="#6b5226" opacity="0.80"/>
<ellipse cx="240.7" cy="346.2" rx="1.16" ry="0.74" fill="#6b5226" opacity="0.63"/>
<ellipse cx="238.1" cy="335.6" rx="0.77" ry="0.72" fill="#6b5226" opacity="0.72"/>
<ellipse cx="191.5" cy="333.2" rx="0.83" ry="0.65" fill="#6b5226" opacity="0.72"/>
<ellipse cx="212.4" cy="336.5" rx="1.00" ry="0.63" fill="#6b5226" opacity="0.58"/>
<ellipse cx="205.3" cy="322.1" rx="0.85" ry="0.79" fill="#6b5226" opacity="0.75"/>
<ellipse cx="192.4" cy="320.3" rx="0.53" ry="0.36" fill="#6b5226" opacity="0.82"/>
<ellipse cx="198.3" cy="335.1" rx="0.63" ry="0.38" fill="#6b5226" opacity="0.69"/>
<ellipse cx="221.1" cy="332.9" rx="0.70" ry="0.45" fill="#6b5226" opacity="0.61"/>
<ellipse cx="229.5" cy="338.2" rx="0.91" ry="0.89" fill="#6b5226" opacity="0.62"/>
<ellipse cx="188.5" cy="314.4" rx="0.86" ry="0.64" fill="#6b5226" opacity="0.88"/>
<ellipse cx="214.3" cy="304.2" rx="1.04" ry="0.83" fill="#6b5226" opacity="0.86"/>
<ellipse cx="220.5" cy="327.1" rx="1.21" ry="1.09" fill="#6b5226" opacity="0.78"/>
<ellipse cx="185.0" cy="284.5" rx="0.61" ry="0.58" fill="#6b5226" opacity="0.88"/>
<ellipse cx="194.4" cy="310.8" rx="0.96" ry="0.73" fill="#6b5226" opacity="0.47"/>
<ellipse cx="206.2" cy="328.2" rx="0.73" ry="0.56" fill="#6b5226" opacity="0.69"/>
<ellipse cx="243.0" cy="321.1" rx="0.72" ry="0.60" fill="#6b5226" opacity="0.52"/>
<ellipse cx="253.0" cy="331.4" rx="0.78" ry="0.63" fill="#6b5226" opacity="0.51"/>
<ellipse cx="207.6" cy="290.3" rx="1.27" ry="0.86" fill="#6b5226" opacity="0.88"/>
<ellipse cx="199.0" cy="284.1" rx="0.85" ry="0.60" fill="#6b5226" opacity="0.50"/>
<ellipse cx="220.7" cy="335.7" rx="1.01" ry="0.73" fill="#6b5226" opacity="0.80"/>
<ellipse cx="195.1" cy="327.7" rx="0.88" ry="0.76" fill="#6b5226" opacity="0.70"/>
<ellipse cx="188.0" cy="306.9" rx="1.10" ry="0.84" fill="#6b5226" opacity="0.76"/>
<ellipse cx="208.4" cy="316.5" rx="1.27" ry="1.12" fill="#6b5226" opacity="0.74"/>
<ellipse cx="262.9" cy="326.2" rx="0.77" ry="0.71" fill="#6b5226" opacity="0.63"/>
<ellipse cx="226.8" cy="318.9" rx="1.22" ry="0.90" fill="#6b5226" opacity="0.51"/>
<ellipse cx="187.7" cy="293.3" rx="0.90" ry="0.78" fill="#6b5226" opacity="0.83"/>
<ellipse cx="254.7" cy="330.8" rx="1.17" ry="1.02" fill="#6b5226" opacity="0.52"/>
<ellipse cx="259.3" cy="341.9" rx="1.09" ry="0.94" fill="#6b5226" opacity="0.82"/>
<ellipse cx="242.6" cy="322.4" rx="0.99" ry="0.62" fill="#6b5226" opacity="0.57"/>
<ellipse cx="233.9" cy="334.4" rx="0.72" ry="0.50" fill="#6b5226" opacity="0.55"/>
<ellipse cx="190.1" cy="319.6" rx="1.28" ry="0.95" fill="#6b5226" opacity="0.81"/>
<ellipse cx="182.3" cy="314.9" rx="0.61" ry="0.38" fill="#6b5226" opacity="0.57"/>
<ellipse cx="220.3" cy="307.5" rx="1.15" ry="1.07" fill="#6b5226" opacity="0.47"/>
<ellipse cx="191.5" cy="274.4" rx="1.00" ry="0.74" fill="#6b5226" opacity="0.60"/>
<ellipse cx="254.2" cy="332.9" rx="0.93" ry="0.85" fill="#6b5226" opacity="0.46"/>
<ellipse cx="184.4" cy="302.5" rx="0.84" ry="0.71" fill="#6b5226" opacity="0.48"/>
<ellipse cx="216.4" cy="303.2" rx="0.97" ry="0.92" fill="#6b5226" opacity="0.55"/>
<ellipse cx="267.6" cy="332.4" rx="1.27" ry="1.26" fill="#6b5226" opacity="0.60"/>
<ellipse cx="188.1" cy="299.8" rx="0.61" ry="0.53" fill="#6b5226" opacity="0.65"/>
<ellipse cx="198.7" cy="325.6" rx="0.91" ry="0.62" fill="#6b5226" opacity="0.65"/>
<ellipse cx="204.8" cy="308.0" rx="1.06" ry="0.95" fill="#6b5226" opacity="0.89"/>
<ellipse cx="263.6" cy="344.0" rx="1.08" ry="0.67" fill="#6b5226" opacity="0.77"/>
<ellipse cx="256.3" cy="324.2" rx="1.00" ry="0.75" fill="#6b5226" opacity="0.57"/>
<ellipse cx="196.1" cy="315.2" rx="1.29" ry="0.80" fill="#6b5226" opacity="0.59"/>
<ellipse cx="197.1" cy="287.5" rx="1.22" ry="0.95" fill="#6b5226" opacity="0.81"/>
<ellipse cx="190.8" cy="262.7" rx="0.62" ry="0.49" fill="#6b5226" opacity="0.80"/>
<ellipse cx="267.2" cy="343.2" rx="1.14" ry="1.05" fill="#6b5226" opacity="0.66"/>
<ellipse cx="193.0" cy="262.9" rx="0.95" ry="0.65" fill="#6b5226" opacity="0.68"/>
<ellipse cx="219.6" cy="325.2" rx="0.81" ry="0.76" fill="#6b5226" opacity="0.82"/>
<ellipse cx="200.4" cy="310.5" rx="0.80" ry="0.75" fill="#6b5226" opacity="0.45"/>
<ellipse cx="209.8" cy="314.5" rx="1.21" ry="1.03" fill="#6b5226" opacity="0.67"/>
<ellipse cx="199.7" cy="276.3" rx="1.22" ry="0.79" fill="#6b5226" opacity="0.62"/>
<ellipse cx="199.2" cy="297.6" rx="0.97" ry="0.85" fill="#6b5226" opacity="0.74"/>
<ellipse cx="239.9" cy="323.4" rx="0.69" ry="0.61" fill="#6b5226" opacity="0.74"/>
<ellipse cx="187.4" cy="275.9" rx="1.29" ry="0.98" fill="#6b5226" opacity="0.55"/>
<ellipse cx="249.8" cy="334.4" rx="1.01" ry="0.62" fill="#6b5226" opacity="0.78"/>
<ellipse cx="186.2" cy="276.0" rx="1.24" ry="1.08" fill="#6b5226" opacity="0.55"/>
<ellipse cx="198.1" cy="332.7" rx="0.63" ry="0.40" fill="#6b5226" opacity="0.68"/>
<ellipse cx="249.7" cy="341.0" rx="1.23" ry="1.16" fill="#6b5226" opacity="0.45"/>
<ellipse cx="229.8" cy="334.1" rx="0.90" ry="0.76" fill="#6b5226" opacity="0.73"/>
<ellipse cx="186.7" cy="306.5" rx="0.73" ry="0.44" fill="#6b5226" opacity="0.63"/>
<ellipse cx="253.4" cy="333.2" rx="0.87" ry="0.75" fill="#6b5226" opacity="0.50"/>
<ellipse cx="199.8" cy="294.9" rx="0.59" ry="0.48" fill="#6b5226" opacity="0.89"/>
<ellipse cx="244.8" cy="337.0" rx="1.18" ry="0.88" fill="#6b5226" opacity="0.50"/>
<ellipse cx="208.0" cy="328.2" rx="0.62" ry="0.61" fill="#6b5226" opacity="0.72"/>
<ellipse cx="188.4" cy="263.4" rx="1.05" ry="0.85" fill="#6b5226" opacity="0.72"/>
<ellipse cx="234.5" cy="316.9" rx="1.23" ry="1.13" fill="#6b5226" opacity="0.78"/>
<ellipse cx="260.5" cy="335.7" rx="1.07" ry="0.94" fill="#6b5226" opacity="0.46"/>
<ellipse cx="238.2" cy="345.2" rx="1.11" ry="1.11" fill="#6b5226" opacity="0.83"/>
<ellipse cx="203.5" cy="293.2" rx="0.52" ry="0.49" fill="#6b5226" opacity="0.55"/>
<ellipse cx="248.3" cy="329.5" rx="1.21" ry="0.99" fill="#6b5226" opacity="0.81"/>
<ellipse cx="209.0" cy="314.7" rx="0.79" ry="0.78" fill="#6b5226" opacity="0.69"/>
<ellipse cx="195.9" cy="305.1" rx="1.02" ry="0.99" fill="#6b5226" opacity="0.69"/>
<ellipse cx="217.0" cy="343.4" rx="1.05" ry="0.67" fill="#6b5226" opacity="0.89"/>
<ellipse cx="200.3" cy="280.7" rx="1.23" ry="0.86" fill="#6b5226" opacity="0.46"/>
<ellipse cx="197.2" cy="295.8" rx="1.05" ry="0.94" fill="#6b5226" opacity="0.76"/>
<ellipse cx="187.5" cy="258.7" rx="0.51" ry="0.34" fill="#6b5226" opacity="0.61"/>
<ellipse cx="191.7" cy="301.4" rx="1.28" ry="0.90" fill="#6b5226" opacity="0.76"/>
<ellipse cx="190.6" cy="282.3" rx="0.83" ry="0.64" fill="#6b5226" opacity="0.76"/>
<ellipse cx="255.5" cy="332.3" rx="1.04" ry="0.63" fill="#6b5226" opacity="0.57"/>
<ellipse cx="195.6" cy="317.9" rx="0.97" ry="0.65" fill="#6b5226" opacity="0.75"/>
<ellipse cx="194.4" cy="261.7" rx="1.29" ry="1.11" fill="#6b5226" opacity="0.62"/>
<ellipse cx="213.5" cy="304.3" rx="0.59" ry="0.54" fill="#6b5226" opacity="0.56"/>
<ellipse cx="206.5" cy="290.1" rx="1.11" ry="0.75" fill="#6b5226" opacity="0.55"/>
<ellipse cx="200.8" cy="290.4" rx="0.79" ry="0.62" fill="#6b5226" opacity="0.74"/>
<ellipse cx="239.1" cy="335.6" rx="0.69" ry="0.53" fill="#6b5226" opacity="0.46"/>
<ellipse cx="192.0" cy="298.0" rx="1.07" ry="0.69" fill="#6b5226" opacity="0.49"/>
<ellipse cx="201.8" cy="296.0" rx="0.59" ry="0.44" fill="#6b5226" opacity="0.48"/>
<ellipse cx="201.1" cy="326.4" rx="0.95" ry="0.94" fill="#6b5226" opacity="0.84"/>
<ellipse cx="189.1" cy="278.5" rx="1.24" ry="1.11" fill="#6b5226" opacity="0.66"/>
<ellipse cx="188.4" cy="297.3" rx="0.75" ry="0.65" fill="#6b5226" opacity="0.54"/>
<ellipse cx="184.1" cy="299.0" rx="1.09" ry="0.76" fill="#6b5226" opacity="0.69"/>
<ellipse cx="224.9" cy="312.5" rx="1.02" ry="0.94" fill="#6b5226" opacity="0.52"/>
<ellipse cx="263.3" cy="326.0" rx="1.19" ry="1.14" fill="#6b5226" opacity="0.62"/>
<ellipse cx="197.6" cy="274.7" rx="0.98" ry="0.62" fill="#6b5226" opacity="0.86"/>
<ellipse cx="198.5" cy="326.9" rx="0.97" ry="0.74" fill="#6b5226" opacity="0.87"/>
<ellipse cx="200.6" cy="335.4" rx="0.66" ry="0.52" fill="#6b5226" opacity="0.90"/>
<ellipse cx="209.7" cy="292.7" rx="0.77" ry="0.47" fill="#6b5226" opacity="0.75"/>
<ellipse cx="221.1" cy="308.2" rx="1.07" ry="0.74" fill="#6b5226" opacity="0.51"/>
<ellipse cx="194.8" cy="265.7" rx="0.92" ry="0.88" fill="#6b5226" opacity="0.71"/>
<ellipse cx="186.9" cy="275.4" rx="0.63" ry="0.50" fill="#6b5226" opacity="0.71"/>
<ellipse cx="217.2" cy="340.8" rx="1.03" ry="1.01" fill="#6b5226" opacity="0.84"/>
<ellipse cx="183.5" cy="281.0" rx="0.73" ry="0.69" fill="#6b5226" opacity="0.89"/>
<ellipse cx="218.1" cy="304.9" rx="1.18" ry="1.02" fill="#6b5226" opacity="0.81"/>
<ellipse cx="203.0" cy="317.8" rx="0.97" ry="0.93" fill="#6b5226" opacity="0.81"/>
<ellipse cx="202.3" cy="288.6" rx="0.92" ry="0.58" fill="#6b5226" opacity="0.75"/>
<ellipse cx="222.6" cy="319.2" rx="1.14" ry="0.90" fill="#6b5226" opacity="0.45"/>
<ellipse cx="240.3" cy="322.9" rx="1.02" ry="1.00" fill="#6b5226" opacity="0.53"/>
<ellipse cx="199.8" cy="292.9" rx="1.27" ry="0.88" fill="#6b5226" opacity="0.86"/>
<ellipse cx="239.0" cy="328.7" rx="0.60" ry="0.41" fill="#6b5226" opacity="0.55"/>
<ellipse cx="193.7" cy="292.6" rx="0.84" ry="0.70" fill="#6b5226" opacity="0.49"/>
<ellipse cx="212.6" cy="322.4" rx="0.85" ry="0.67" fill="#6b5226" opacity="0.53"/>
<ellipse cx="183.5" cy="319.6" rx="0.63" ry="0.62" fill="#6b5226" opacity="0.62"/>
<ellipse cx="247.9" cy="335.6" rx="1.01" ry="0.89" fill="#6b5226" opacity="0.74"/>
<ellipse cx="204.0" cy="334.2" rx="0.98" ry="0.93" fill="#6b5226" opacity="0.83"/>
<ellipse cx="183.3" cy="305.5" rx="1.08" ry="0.68" fill="#6b5226" opacity="0.57"/>
<ellipse cx="182.4" cy="269.3" rx="1.06" ry="0.73" fill="#6b5226" opacity="0.45"/>
<ellipse cx="204.8" cy="323.1" rx="1.29" ry="0.83" fill="#6b5226" opacity="0.46"/>
<ellipse cx="194.8" cy="285.5" rx="0.92" ry="0.70" fill="#6b5226" opacity="0.59"/>
<ellipse cx="186.7" cy="260.4" rx="0.63" ry="0.54" fill="#6b5226" opacity="0.49"/>
<ellipse cx="250.1" cy="324.9" rx="0.77" ry="0.52" fill="#6b5226" opacity="0.67"/>
<ellipse cx="186.4" cy="267.4" rx="1.05" ry="0.93" fill="#6b5226" opacity="0.62"/>
<ellipse cx="201.7" cy="331.7" rx="1.14" ry="0.95" fill="#6b5226" opacity="0.49"/>
<ellipse cx="198.5" cy="322.8" rx="1.14" ry="0.79" fill="#6b5226" opacity="0.81"/>
<ellipse cx="190.0" cy="318.3" rx="0.95" ry="0.64" fill="#6b5226" opacity="0.51"/>
<ellipse cx="204.2" cy="294.3" rx="0.93" ry="0.57" fill="#6b5226" opacity="0.78"/>
<ellipse cx="207.0" cy="316.0" rx="1.05" ry="1.01" fill="#6b5226" opacity="0.73"/>
<ellipse cx="199.6" cy="283.1" rx="1.03" ry="0.68" fill="#6b5226" opacity="0.57"/>
<ellipse cx="201.5" cy="329.1" rx="1.16" ry="1.14" fill="#6b5226" opacity="0.77"/>
<ellipse cx="209.1" cy="324.1" rx="0.54" ry="0.35" fill="#6b5226" opacity="0.72"/>
<ellipse cx="186.2" cy="303.4" rx="0.62" ry="0.59" fill="#6b5226" opacity="0.87"/>
<ellipse cx="192.3" cy="302.7" rx="0.92" ry="0.81" fill="#6b5226" opacity="0.61"/>
<ellipse cx="227.5" cy="329.5" rx="0.58" ry="0.44" fill="#6b5226" opacity="0.48"/>
<ellipse cx="209.4" cy="299.7" rx="1.07" ry="0.80" fill="#6b5226" opacity="0.80"/>
<ellipse cx="220.4" cy="344.8" rx="1.25" ry="0.80" fill="#6b5226" opacity="0.73"/>
<ellipse cx="221.2" cy="315.7" rx="0.72" ry="0.72" fill="#6b5226" opacity="0.47"/>
<ellipse cx="222.1" cy="313.9" rx="0.74" ry="0.67" fill="#6b5226" opacity="0.48"/>
<ellipse cx="189.4" cy="291.4" rx="0.58" ry="0.36" fill="#6b5226" opacity="0.88"/>
<ellipse cx="206.8" cy="328.8" rx="0.61" ry="0.38" fill="#6b5226" opacity="0.50"/>
<ellipse cx="196.1" cy="305.2" rx="1.17" ry="0.78" fill="#6b5226" opacity="0.53"/>
<ellipse cx="192.1" cy="278.0" rx="1.09" ry="1.05" fill="#6b5226" opacity="0.85"/>
 </g>

 <g mask="url(#mBot)">
 <!-- lower fat skin rim -->
 <path d="M103.5,421 C105,417 110,414.5 116,413.5 C122,412.5 128,411.5 132.7,411 C140,410 146,408.8 152,407.5 C160,406 168,404.5 175.5,402.7 C181,401.5 186,400 190,398.5 C195,397 200,395.5 204,394 C210,392 216,389.5 221,388.4 C225,387.5 229,387 232,387 L243.8,387 C252,387.5 260,389 268,391 L268,437 L250,437 C230,437 210,437.5 191,438.5 C180,439 170,440 162,441.5 C153,444 148,447 144,452 C140,458 137.5,463 137,468 C136.5,478 136.5,486 134,493 C132,499 128,502.5 122,503 C116,504 110,501.5 106,497 C101,491 98,482 96.5,472 C95,460 95,448 96.5,440 C98,432 101,426 103.5,421 Z" fill="#f0c4b6" stroke="#b98078" stroke-width="0.7"/>
 <!-- lower fat yellow -->
 <path d="M106.5,423.5 C108,420 112,417.8 117,416.8 C122,415.8 128,414.8 133,414.2 C140,413.2 146,412 152,410.8 C160,409.3 168,407.8 176,406 C181,404.8 186,403.3 190.5,401.8 C195,400.3 200,398.8 204.5,397.3 C210,395.3 216,393 221.5,391.8 C225,391 229,390.5 232,390.5 L250,391 L250,433 C230,433.5 210,434 191,435.5 C180,436 170,437 162,438.5 C152,441 146,445 141.8,450 C137,456 134.5,462 134,467 C133.5,475 133.5,484 131,490.5 C129,496 126,499 122,499.5 C116,500.5 111,498.5 107.5,494.5 C103,489 101,481 99.5,472 C98,461 98,449 99.5,441 C101,433 104,428 106.5,423.5 Z" fill="url(#pFat)" stroke="#9c8a4a" stroke-width="0.7"/>
 <path d="M110,446 C110,434 118,424 130,420 C138,417.5 146,417 148,420 C149,424 142,426 136,430 C128,436 124,444 121,451 C118,456 110,454 110,446 Z" fill="#efe7c6" stroke="#9c8a4a" stroke-width="0.8"/>
 <ellipse cx="160.5" cy="418.5" rx="7" ry="3.6" fill="#efe7c6" stroke="#9c8a4a" stroke-width="0.8" transform="rotate(-12 160.5 418.5)"/>
 <g fill="#4f4a32" opacity="0.85"><ellipse cx="118" cy="462" rx="0.9" ry="2"/><ellipse cx="113" cy="469" rx="1.6" ry="1.1"/><ellipse cx="120" cy="472" rx="1" ry="2"/><ellipse cx="109" cy="480" rx="0.9" ry="2"/><ellipse cx="118.5" cy="479" rx="1.1" ry="1.8"/><ellipse cx="131" cy="440" rx="1.4" ry="0.9"/><ellipse cx="137" cy="435" rx="1.6" ry="1.2"/><ellipse cx="144" cy="432" rx="1" ry="1.8"/></g>
 <!-- lower cartilage (tan striped) -->
 <path d="M226,408 C240,407 255,407 268,408 L292,411 C293,416 290,422 286,426 C282,432 276,438 266,440 L240,440 C234,430 228,420 226,408 Z" fill="#e6d3a2"/>
 <g stroke="#c9ad6e" stroke-width="0.7" opacity="0.8"><path d="M238,409 L240,438"/><path d="M246,408 L247,440"/><path d="M256,408 L256,440"/><path d="M266,409 L268,438"/><path d="M276,410 L279,432"/><path d="M284,411 L286,424"/></g>
 <!-- lower bone -->
 <path d="M214,396 C218,394 224,392.5 232,391.5 L244,391 C252,391.5 260,392.5 268,394 L292,402 L292,411 L268,408.5 C255,407.5 240,407.5 226,408.5 C222,409 218,410 216,411 C213,406 212.5,400 214,396 Z" fill="#ecd89c" stroke="#9c8346" stroke-width="0.6"/>
 <ellipse cx="261.9" cy="396.4" rx="0.73" ry="0.65" fill="#5d4b22" opacity="0.77"/>
<ellipse cx="234.8" cy="395.6" rx="0.73" ry="0.48" fill="#5d4b22" opacity="0.90"/>
<ellipse cx="229.1" cy="406.4" rx="0.67" ry="0.51" fill="#5d4b22" opacity="0.53"/>
<ellipse cx="274.0" cy="403.3" rx="0.95" ry="0.69" fill="#5d4b22" opacity="0.88"/>
<ellipse cx="280.5" cy="408.0" rx="0.63" ry="0.47" fill="#5d4b22" opacity="0.61"/>
<ellipse cx="242.8" cy="398.3" rx="0.56" ry="0.54" fill="#5d4b22" opacity="0.55"/>
<ellipse cx="247.2" cy="404.0" rx="0.94" ry="0.66" fill="#5d4b22" opacity="0.79"/>
<ellipse cx="285.9" cy="407.7" rx="1.00" ry="0.90" fill="#5d4b22" opacity="0.78"/>
<ellipse cx="265.9" cy="398.4" rx="0.92" ry="0.75" fill="#5d4b22" opacity="0.51"/>
<ellipse cx="272.6" cy="404.9" rx="0.83" ry="0.78" fill="#5d4b22" opacity="0.47"/>
<ellipse cx="257.6" cy="400.0" rx="0.67" ry="0.61" fill="#5d4b22" opacity="0.80"/>
<ellipse cx="241.9" cy="395.5" rx="0.55" ry="0.34" fill="#5d4b22" opacity="0.60"/>
<ellipse cx="251.1" cy="398.8" rx="0.90" ry="0.65" fill="#5d4b22" opacity="0.88"/>
<ellipse cx="282.4" cy="402.6" rx="0.55" ry="0.52" fill="#5d4b22" opacity="0.71"/>
<ellipse cx="255.4" cy="400.6" rx="0.71" ry="0.61" fill="#5d4b22" opacity="0.85"/>
<ellipse cx="231.8" cy="398.0" rx="0.68" ry="0.60" fill="#5d4b22" opacity="0.88"/>
<ellipse cx="218.7" cy="403.0" rx="0.72" ry="0.55" fill="#5d4b22" opacity="0.77"/>
<ellipse cx="223.0" cy="401.5" rx="0.91" ry="0.68" fill="#5d4b22" opacity="0.80"/>
<ellipse cx="232.9" cy="406.4" rx="0.90" ry="0.86" fill="#5d4b22" opacity="0.55"/>
<ellipse cx="244.9" cy="405.6" rx="0.96" ry="0.70" fill="#5d4b22" opacity="0.54"/>
<ellipse cx="241.0" cy="406.1" rx="0.59" ry="0.47" fill="#5d4b22" opacity="0.70"/>
<ellipse cx="257.9" cy="406.7" rx="0.93" ry="0.91" fill="#5d4b22" opacity="0.61"/>
<ellipse cx="248.2" cy="403.2" rx="0.63" ry="0.48" fill="#5d4b22" opacity="0.57"/>
<ellipse cx="255.0" cy="400.3" rx="0.55" ry="0.40" fill="#5d4b22" opacity="0.45"/>
<ellipse cx="270.5" cy="406.5" rx="0.62" ry="0.50" fill="#5d4b22" opacity="0.57"/>
<ellipse cx="229.3" cy="403.3" rx="0.95" ry="0.79" fill="#5d4b22" opacity="0.54"/>
<ellipse cx="270.8" cy="406.5" rx="0.86" ry="0.61" fill="#5d4b22" opacity="0.77"/>
<ellipse cx="221.3" cy="407.5" rx="0.84" ry="0.66" fill="#5d4b22" opacity="0.51"/>
<ellipse cx="234.6" cy="394.4" rx="0.58" ry="0.49" fill="#5d4b22" opacity="0.63"/>
<ellipse cx="239.0" cy="393.6" rx="0.61" ry="0.41" fill="#5d4b22" opacity="0.49"/>
<ellipse cx="240.0" cy="401.1" rx="0.59" ry="0.46" fill="#5d4b22" opacity="0.67"/>
<ellipse cx="231.0" cy="403.0" rx="0.57" ry="0.36" fill="#5d4b22" opacity="0.53"/>
<ellipse cx="246.7" cy="397.8" rx="0.71" ry="0.62" fill="#5d4b22" opacity="0.61"/>
<ellipse cx="245.8" cy="393.4" rx="0.93" ry="0.56" fill="#5d4b22" opacity="0.71"/>
<ellipse cx="280.6" cy="406.0" rx="0.68" ry="0.66" fill="#5d4b22" opacity="0.73"/>
<ellipse cx="246.5" cy="399.5" rx="0.65" ry="0.56" fill="#5d4b22" opacity="0.70"/>
<ellipse cx="227.0" cy="398.0" rx="0.93" ry="0.77" fill="#5d4b22" opacity="0.81"/>
<ellipse cx="267.5" cy="397.5" rx="0.97" ry="0.74" fill="#5d4b22" opacity="0.70"/>
<ellipse cx="284.2" cy="407.6" rx="0.51" ry="0.41" fill="#5d4b22" opacity="0.60"/>
<ellipse cx="253.7" cy="398.0" rx="0.95" ry="0.77" fill="#5d4b22" opacity="0.61"/>
<ellipse cx="286.6" cy="404.1" rx="0.74" ry="0.56" fill="#5d4b22" opacity="0.60"/>
<ellipse cx="235.8" cy="398.2" rx="0.69" ry="0.67" fill="#5d4b22" opacity="0.61"/>
<ellipse cx="257.0" cy="396.1" rx="0.67" ry="0.44" fill="#5d4b22" opacity="0.82"/>
<ellipse cx="236.1" cy="406.1" rx="0.86" ry="0.84" fill="#5d4b22" opacity="0.86"/>
<ellipse cx="249.0" cy="394.2" rx="0.87" ry="0.66" fill="#5d4b22" opacity="0.84"/>
<ellipse cx="273.3" cy="403.1" rx="0.99" ry="0.62" fill="#5d4b22" opacity="0.47"/>
<ellipse cx="269.8" cy="403.9" rx="0.56" ry="0.37" fill="#5d4b22" opacity="0.52"/>
<ellipse cx="262.3" cy="404.8" rx="0.98" ry="0.98" fill="#5d4b22" opacity="0.61"/>
<ellipse cx="249.0" cy="398.6" rx="0.63" ry="0.62" fill="#5d4b22" opacity="0.55"/>
<ellipse cx="291.6" cy="405.5" rx="0.59" ry="0.39" fill="#5d4b22" opacity="0.53"/>
<ellipse cx="242.7" cy="406.2" rx="0.53" ry="0.46" fill="#5d4b22" opacity="0.69"/>
<ellipse cx="218.6" cy="399.7" rx="0.90" ry="0.70" fill="#5d4b22" opacity="0.71"/>
<ellipse cx="283.0" cy="403.2" rx="0.67" ry="0.65" fill="#5d4b22" opacity="0.63"/>
<ellipse cx="229.3" cy="398.4" rx="0.85" ry="0.78" fill="#5d4b22" opacity="0.45"/>
<ellipse cx="275.7" cy="401.3" rx="0.50" ry="0.38" fill="#5d4b22" opacity="0.81"/>
 </g>

 <!-- ======== nerves (tan) ======== -->
 <g mask="url(#mNerve)">
 <path d="M392,347 C410,341 440,332 490,322 L492,334 C455,346 432,358 412,374 Z" fill="#d6b273"/>
 <g stroke="#a67f42" stroke-width="0.7" opacity="0.8" fill="none"><path d="M396,350 C420,342 450,333 482,326"/><path d="M400,356 C425,346 452,337 483,329"/><path d="M404,362 C430,350 455,340 484,332"/><path d="M408,368 C432,355 455,344 484,335"/></g>
 <path d="M346,344 C356,340 366,336 378,333.5 C382,330 388,326.5 395,325.3 C398,325 401,325.2 403,325.5 C415,324.5 426,323 436.5,322 C448,320.8 460,319.5 488,317 L488,324 C470,326 450,328.5 425,331 C416,332 407,333 399,334 C392,337.5 384,340 376,341.5 C366,343 354,346 346,348 Z" fill="#d2a457" stroke="#a07c42" stroke-width="0.5"/>
 <path d="M384,331 C392,327.5 410,326.5 440,324" stroke="#ecd298" stroke-width="1.5" fill="none" filter="url(#b05)"/>
 </g>

 <!-- ======== eustachian tube & muscle ======== -->
 <g mask="url(#mTube)">
 <!-- lower muscle -->
 <path d="M284,400 C300,404 320,410 340,416 C370,424 400,432 440,444 L560,480 L520,551 C500,540 480,527 470,522 C460,517 450,513 441.5,508 C432,503 424,499 416,494 C407,488 398,483 390.8,477.7 C382,471 373,463 365.4,456 C355,450 347,444 340,438.4 C322,428 300,416 284,410 Z" fill="url(#bgMuscle2)"/>
 <path d="M288,405 C310,411 335,419 352,427 C345,428 335,427 322,423 C308,418 296,412 288,408 Z" fill="#cf9088" opacity="0.9" filter="url(#b05)"/>
 <g stroke="#9c3625" stroke-width="0.8" opacity="0.55" fill="none"><path d="M300,412 C340,430 395,466 445,498"/><path d="M310,412 C350,430 405,462 460,496"/><path d="M320,414 C360,430 420,460 478,492"/><path d="M335,418 C380,434 430,458 490,488"/><path d="M350,424 C395,440 440,462 495,486"/></g>
 <g stroke="#e4886a" stroke-width="1.2" opacity="0.6" fill="none" filter="url(#b05)"><path d="M305,410 C345,428 400,464 452,497"/><path d="M328,415 C370,431 425,459 485,490"/></g>
 <!-- tube outer wall (peach) -->
 <path d="M340,398 C346,401 350,402.5 352.7,402.8 C375,404.5 395,404.5 416,405.4 C433,406.5 450,409 467,413 C480,416 490,419.5 500,423 L560,444 L560,512 C540,500 520,490 500,481.5 C485,475 470,468 454,461 C440,455 428,450.5 416,446 C402,440 390,434.5 378,429.5 C368,426 358,422.5 350,419 Z" fill="#f3c8a6" stroke="#b9714f" stroke-width="0.6"/>
 <!-- tube lumen -->
 <path d="M346,404 C349,406.5 352,407.6 355,408 C375,410 395,410 416,411 C433,412 450,415 467,419.3 C480,422.5 490,426 500,429.5 L560,451 L560,490 C540,480 520,472 500,463.7 C485,458 470,452.5 454,447 C440,442 428,438.5 416,434.6 C402,430 390,426.5 378,423 C368,420 358,416 350,411 Z" fill="#b5544a"/>
 <path d="M372,416 C400,419 440,428 480,442 C500,449 520,457 545,468" stroke="#dc9588" stroke-width="7" fill="none" filter="url(#b3)" opacity="0.85"/>
 <path d="M352,409.5 C375,411.5 395,411.5 416,412.5 C440,414 470,421 500,431" stroke="#8f3328" stroke-width="1.2" fill="none" filter="url(#b05)" opacity="0.7"/>
 <path d="M352,413 C385,424 430,438 560,489" stroke="#8f3328" stroke-width="1.5" fill="none" filter="url(#b05)"/>
 </g>
 <!-- canal->tube floor (peach strip running from eardrum bottom) -->
 <path d="M344,388 L358,392 L362,408 L352,414 L340,410 Z" fill="#efc09c"/>
 <path d="M262,393 C272,396 282,399.5 291,402 C299,404 307,404.8 314,405.2 C320,405.8 326,407 331,407.5 C338,407.8 344,406 349,405 L357,410 L356,417 C350,420 343,420 337,419 C330,418 323,416.5 316,414.5 C308,412.5 300,410.5 293.5,408.5 C283,405.5 272,402 262,399 Z" fill="#efb79b" stroke="#a85a42" stroke-width="0.5"/>
 <path d="M268,397.5 C285,403 300,408 316,411.5 C328,414 342,416 354,414" stroke="#f8d4bc" stroke-width="1.6" fill="none" filter="url(#b05)"/>

 <!-- ======== inner ear (mauve) ======== -->
 <g fill="none" stroke="#8d5a64" stroke-linecap="round">
  <path d="M341,304 C343,297 349,292.3 356,292 C363,292 369,296 372,303 C374,310 373,318 369,324 C365,330 359,333 353,335" stroke-width="7.6"/>
  <path d="M337,314 C331,314 325.5,317 323.8,323 C322.5,329 325,336 332,339.5" stroke-width="6.6"/>
  <path d="M344,310.5 C350,307.5 356,310 359.5,316 C362,322 361,329 356,335" stroke-width="5.800000000000001"/>
</g>
 <g fill="none" stroke="#c99a9e" stroke-linecap="round">
  <path d="M341,304 C343,297 349,292.3 356,292 C363,292 369,296 372,303 C374,310 373,318 369,324 C365,330 359,333 353,335" stroke-width="6"/>
  <path d="M337,314 C331,314 325.5,317 323.8,323 C322.5,329 325,336 332,339.5" stroke-width="5"/>
  <path d="M344,310.5 C350,307.5 356,310 359.5,316 C362,322 361,329 356,335" stroke-width="4.2"/>
</g>
 <g fill="none" stroke="#ecd6d4" stroke-width="1.5" stroke-linecap="round" opacity="0.9" filter="url(#b05)">
  <path d="M340,302 C342,296 349,291 356,290.5 C362,290.5 368,294 371,299"/>
  <path d="M335,312.5 C329,313 324,316.5 322.5,322"/>
  <path d="M346,308 C351,306.5 356,309 359,314"/>
 </g>
 <!-- vestibule column -->
 <path d="M338,300 C336.5,306 335.5,313 335,320 C334,328 333,334 333,340 C333,348 335,354 337,360 C339,366 341,370 342,374 C343,381 344,388 347,393 L356,393 C357,385 357,378 357,372 C356,366 355,362 357,358 C353,350 352,345 351,340 C349,336 348,334 347,332 C345,328 344,324 344,320 C344.5,313 345,306 345.5,300 Z" fill="#c3949a" stroke="#8d5a64" stroke-width="0.7"/>
 <path d="M351,340 C356,339 362,336 366,332 C368,340 366,350 360,358 L356,360 Z" fill="#b98a90"/>
 <path d="M340,304 C338,318 337,334 340,350 C342,362 346,374 348,388" stroke="#e8cfcd" stroke-width="2.6" fill="none" filter="url(#b1)" opacity="0.85"/>
 <path d="M344,322 C346,334 350,344 354,356" stroke="#a5747c" stroke-width="2" fill="none" filter="url(#b1)" opacity="0.6"/>
 <path d="M352,344 L366,348 L364,398 L350,396 Z" fill="#b5868c"/>
 <!-- cochlea -->
 <ellipse cx="385.5" cy="370.5" rx="29.3" ry="30" fill="url(#bgCoch)" stroke="#8d5860" stroke-width="0.9"/>
 <path d="M360,384 C366,398 392,406 412,388" stroke="#8a535c" stroke-width="3" fill="none" filter="url(#b1)" opacity="0.7"/>
 <path d="M359,362 C362,350 372,343 386,343" stroke="#f1dcd9" stroke-width="3" fill="none" filter="url(#b1)" opacity="0.9"/>
 <ellipse cx="379.4" cy="372.8" rx="20.8" ry="22.4" fill="url(#bgCoch2)" stroke="#8d5a62" stroke-width="1.2"/>
 <path d="M362,368 C364,358 371,352.5 381,352.5" stroke="#f3e0dd" stroke-width="2.6" fill="none" filter="url(#b1)" opacity="0.9"/>
 <path d="M366,388 C372,396 388,398 397,384" stroke="#94606a" stroke-width="2.4" fill="none" filter="url(#b1)" opacity="0.6"/>
 <circle cx="372.4" cy="376" r="9.3" fill="url(#bgCoch3)" stroke="#8d5a62" stroke-width="1.1"/>
 <path d="M365.5,374 C366.5,370 369.5,368 373,368" stroke="#f5e6e3" stroke-width="1.8" fill="none" filter="url(#b05)" opacity="0.9"/>
 <path d="M367.5,377 C367.5,373.5 371,371.5 374,373 C377,375 376,380 372.5,380 C370.5,380 370,377.5 372,377" stroke="#8d5a62" stroke-width="1" fill="none"/>
 <!-- nerve fibers over vestibule -->
 <path d="M346,346 C356,340 368,336 380,333 L380,336 C368,340 358,344 348,349 Z" fill="#cfa050" opacity="0.9"/>

 <!-- ======== middle ear ======== -->
 <!-- bone roof over cavity (cream) -->
 <path d="M262,320 C266,318.5 270,318 274.2,317.4 C279,316 284,314 288.5,313 C291.5,312.6 294.5,313 297,313.8 C301,315 304,317.5 307,320.2 C310,323.5 312,327 314,330 C316.5,333 319.5,335 322.7,337.3 C326,339 329,340.5 331.2,343 C333.5,345.5 334.5,348 334,350 C333.8,351.5 333,352.6 332,353.5 L331.2,355.5 C328,355 326,353 324,351 C322.5,350 321,348.5 320,347.3 C318,344.5 316,342 314,340 C311.5,338.5 309,336.8 307,334.5 C304.5,331 302.5,327 300,324.5 C298,322.5 295.5,320.5 292.8,320.2 C289,320 285,320.5 281.4,321 C278,321.5 275,322.5 272.8,323.8 C270.5,325.5 269.3,327.5 268.5,330 C267.5,337 267,345 267,353 L262,353 Z" fill="#f0deb0" stroke="#9c7a46" stroke-width="0.7"/>
 <g fill="#7a5a2a" opacity="0.75"><circle cx="276" cy="319.6" r="0.6"/><circle cx="281" cy="318.3" r="0.6"/><circle cx="286" cy="316.8" r="0.7"/><circle cx="291" cy="316.3" r="0.6"/><circle cx="296" cy="317" r="0.6"/><circle cx="301" cy="319.6" r="0.7"/><circle cx="305" cy="323.6" r="0.6"/><circle cx="308.5" cy="328.5" r="0.7"/><circle cx="312" cy="333" r="0.6"/><circle cx="316" cy="336.6" r="0.7"/><circle cx="320" cy="340" r="0.6"/><circle cx="265" cy="326" r="0.8"/><circle cx="264.5" cy="333" r="0.7"/><circle cx="265" cy="341" r="0.8"/><circle cx="264.5" cy="348" r="0.7"/></g>
 <ellipse cx="326.5" cy="345.8" rx="2.2" ry="3.1" fill="#e2a94e" stroke="#9c7a46" stroke-width="0.6" transform="rotate(-35 326.5 345.8)"/>
 <!-- cavity dark -->
 <path d="M267,353 C267,345 267.5,337 268.5,330 C269.3,327.5 270.5,325.5 272.8,323.8 C275,322.5 278,321.5 281.4,321 C285,320.5 289,320 292.8,320.2 C295.5,320.5 298,322.5 300,324.5 C302.5,327 304.5,331 307,334.5 C309,336.8 311.5,338.5 314,340 C316,342 318,344.5 320,347.3 C321,348.5 322.5,350 324,351 C326,353 328,355 331.2,355.5 C334,358 336,360.5 336.6,363.8 C337,368 334,372 334,376.5 C336,382 346,386 349,391.7 C351,396 349,400 346.7,404 C342,408 334,408 326.5,407 C316,405 302,398 293.5,393 L280,391 L268,380 L265,360 L267,353 Z" fill="url(#bgCavity)" stroke="#5f1d16" stroke-width="0.6"/>
 <path d="M272,330 C276,325 284,323 292,323.5 C298,326 302,334 308,340" stroke="#5e1a14" stroke-width="3" fill="none" filter="url(#b1)" opacity="0.6"/>
 <path d="M302,352 C312,364 318,380 322,398" stroke="#bf5a44" stroke-width="6" fill="none" filter="url(#b2)" opacity="0.6"/>
 <!-- peach lining right of cavity -->
 <path d="M336,362 C340,364 346,366 350,372 C354,378 352,386 356,392 C360,396 370,398 378,402 L378,407 C368,405 356,402 350,396 C346,390 348,384 344,380 C340,376 334,376 334,372 C334,368 335,365 336,362 Z" fill="#efc09c" stroke="#a9623f" stroke-width="0.5"/>
 <!-- eardrum -->
 <path d="M265,356 C271,355 280,362 286,372 C290,380 292,388 290,392 C282,392 272,388 266,380 C262,372 261,360 265,356 Z" fill="#c9a2a0" stroke="#7c4c4a" stroke-width="0.7"/>
 <path d="M266,360 C272,362 280,370 286,382" stroke="#e3c8c6" stroke-width="2" fill="none" filter="url(#b1)" opacity="0.8"/>
 <g stroke="#a77a78" stroke-width="0.5" opacity="0.9"><path d="M272,372 L268,364"/><path d="M275,376 L273,364"/><path d="M278,379 L279,368"/><path d="M280,383 L284,375"/><path d="M279,386 L286,384"/><path d="M276,386 L278,391"/><path d="M272,383 L269,386"/></g>
 <!-- ossicles -->
 <!-- malleus -->
 <path d="M272.2,335 C272.2,330.5 275,328 279,328 C283,328 286,331 286,335 C286,338.5 284,341 281,342 C279.5,346 279,351 280.5,356 C283,362 288,368 291,374 C292.5,378 293,382 292,386 L289,385 C289.5,380 287,375 284,370 C280,364 276,359 274.5,354 C273.5,349 274.5,345 276,342 C273.5,340.5 272.2,338 272.2,335 Z" fill="#b79398" stroke="#55323a" stroke-width="0.6"/>
 <ellipse cx="277.5" cy="333" rx="2.6" ry="2.2" fill="#ead6d4" filter="url(#b05)"/>
 <!-- incus -->
 <path d="M285,331 C288,329.5 291,331 291.5,334.5 C292,340 294,345 297,349.5 C300,354 304,356.5 308.4,357.6 L320,358 L320,361 L308,361.2 C303,360.5 298.5,357.5 295,353 C291.5,348.5 289,343 288,338.5 C286.5,337 285,334.5 285,331 Z" fill="#8e6a72" stroke="#472a30" stroke-width="0.6"/>
 <path d="M289.5,334 C290.5,341 293.5,347.5 297.5,352" stroke="#cdb1b3" stroke-width="1" fill="none" filter="url(#b05)"/>
 <!-- stapes -->
 <path d="M320,357 C323,354.6 329,354 333.5,356 C337,357.8 339,361 338.3,364 C337.5,366.5 334,366.5 331,365.5 C327,364 323,362.5 320,361.5 Z" fill="#6e5258" stroke="#33191e" stroke-width="0.6"/>
 <path d="M324,358.5 C328,357.5 332.5,358.5 335,361.5" stroke="#b79ea1" stroke-width="1.2" fill="none" filter="url(#b05)"/>
 <!-- box -->
 <rect x="243.1" y="298.6" width="134.9" height="134.8" fill="none" stroke="#1c1408" stroke-width="1.4"/>
</g>


<defs>
<clipPath id="icp"><rect x="297.5" y="64" width="200" height="200.6"/></clipPath>
<linearGradient id="igCream" x1="298" y1="96" x2="352" y2="66" gradientUnits="userSpaceOnUse">
 <stop offset="0" stop-color="#e0c384"/><stop offset="0.3" stop-color="#ecd7a2"/><stop offset="0.65" stop-color="#f7ecd0"/><stop offset="1" stop-color="#fff"/>
</linearGradient>
<radialGradient id="igMucus" cx="385" cy="160" r="75" gradientUnits="userSpaceOnUse">
 <stop offset="0" stop-color="#dccb5f"/><stop offset="0.7" stop-color="#d8c759"/><stop offset="1" stop-color="#cdbb4e"/>
</radialGradient>
<linearGradient id="igCanal" x1="298" y1="0" x2="335" y2="0" gradientUnits="userSpaceOnUse">
 <stop offset="0" stop-color="#a9483d"/><stop offset="1" stop-color="#8b362c"/>
</linearGradient>
<radialGradient id="igDrum" cx="347" cy="181" r="26" gradientUnits="userSpaceOnUse">
 <stop offset="0" stop-color="#ee5a44"/><stop offset="0.5" stop-color="#d92a1f"/><stop offset="1" stop-color="#b81a14"/>
</radialGradient>
<radialGradient id="igCoch" cx="484" cy="166" r="44" gradientUnits="userSpaceOnUse">
 <stop offset="0" stop-color="#b98589"/><stop offset="0.45" stop-color="#9c666c"/><stop offset="1" stop-color="#774650"/>
</radialGradient>
<linearGradient id="igMuscle" x1="362" y1="225" x2="497" y2="255" gradientUnits="userSpaceOnUse">
 <stop offset="0" stop-color="#c58982"/><stop offset="0.35" stop-color="#d19590"/><stop offset="0.62" stop-color="#d7786b"/><stop offset="1" stop-color="#df3f2a"/>
</linearGradient>
<linearGradient id="igCart" x1="0" y1="228" x2="0" y2="263" gradientUnits="userSpaceOnUse">
 <stop offset="0" stop-color="#c29c66"/><stop offset="0.4" stop-color="#d8ba86"/><stop offset="1" stop-color="#e6d0a0"/>
</linearGradient>
</defs>
<g id="inset">
<rect x="297" y="64" width="201" height="200.5" fill="#fff"/>
<g clip-path="url(#icp)">
 <!-- cream smooth bone top-left -->
 <path d="M297,64 L372,64 C368,74 364,82 352,89 L337,93 L297,96 Z" fill="url(#igCream)"/>
 <path d="M297,92 C315,92 330,92 340,88" stroke="#d9bd7e" stroke-width="3" fill="none" filter="url(#b1)" opacity="0.7"/>

 <!-- ======== inner ear (mauve) behind ======== -->
 <!-- lateral (left) loop -->
 <path d="M433,84 C424,84 415,91 414,101 C413,111 420,120 431,124" fill="none" stroke="#7d4a52" stroke-width="8.6" stroke-linecap="round"/>
 <path d="M433,84 C424,84 415,91 414,101 C413,111 420,120 431,124" fill="none" stroke="#bc888c" stroke-width="6.8" stroke-linecap="round"/>
 <path d="M431,81.5 C421,82 412.5,90 412,100" fill="none" stroke="#e6c8c6" stroke-width="1.8" stroke-linecap="round" filter="url(#b05)"/>
 <!-- middle arc -->
 <path d="M446,79.5 C455,78 464,80 469,87 C473,93 474,100 473,106" fill="none" stroke="#7d4a52" stroke-width="7.4" stroke-linecap="round"/>
 <path d="M446,79.5 C455,78 464,80 469,87 C473,93 474,100 473,106" fill="none" stroke="#bc888c" stroke-width="5.6" stroke-linecap="round"/>
 <path d="M448,77.5 C456,76.5 464,78.5 469,84" fill="none" stroke="#e6c8c6" stroke-width="1.5" stroke-linecap="round" filter="url(#b05)"/>
 <!-- right big loop -->
 <path d="M484,58 C492,64 493,80 489,94 C485,106 474,114 462,119" fill="none" stroke="#7d4a52" stroke-width="10.8" stroke-linecap="round"/>
 <path d="M484,58 C492,64 493,80 489,94 C485,106 474,114 462,119" fill="none" stroke="#b98488" stroke-width="9" stroke-linecap="round"/>
 <path d="M487,66 C489,78 487,92 481,102" fill="none" stroke="#e2c0be" stroke-width="2.2" stroke-linecap="round" filter="url(#b05)"/>
 <!-- body / vestibule + ampullae -->
 <path d="M431,112 C431,124 429,136 429,146 C430,156 432,166 436,174 C442,182 450,188 455,194 C459,200 462,208 470,214 L500,220 L500,108 C494,104 484,102 476,106 C468,110 462,116 458,122 C454,112 450,104 447,96 L433,96 Z" fill="#996268"/>
 <!-- big vertical column -->
 <path d="M441,60 C432,80 430,105 433,128 C436,150 448,168 456,180 L474,176 C468,160 462,140 458.5,123 C452,108 447,95 446,80 C446,72 447,66 450,60 Z" fill="#b27d82" stroke="#7d4a52" stroke-width="0.9"/>
 <path d="M437,66 C434,84 433,104 436,124 C438,138 444,150 450,162" fill="none" stroke="#8c5860" stroke-width="3" filter="url(#b1)" opacity="0.7"/>
 <path d="M443,70 C441,86 443,102 448,116 C452,126 454,134 454,142" fill="none" stroke="#e3c3c1" stroke-width="3.2" filter="url(#b1)" opacity="0.85"/>
 <!-- ampulla right -->
 <path d="M458,122 C462,114 470,108 480,106 C488,106 494,110 498,116 L498,150 C486,140 470,134 458,122 Z" fill="#a87278" stroke="#7d4a52" stroke-width="0.7"/>
 <path d="M464,118 C470,112 480,109 490,112" stroke="#d9b4b3" stroke-width="2.4" fill="none" filter="url(#b1)"/>
 <!-- cochlea -->
 <ellipse cx="500" cy="174" rx="33.5" ry="39.5" fill="url(#igCoch)" stroke="#5e3038" stroke-width="0.9"/>
 <path d="M468.5,168 C469,152 478,140 492,136" stroke="#d2a9ab" stroke-width="4" fill="none" filter="url(#b2)" opacity="0.75"/>
 <path d="M474,196 C470,182 472,166 480,158 C486,152 492,150 499,150" stroke="#5e3038" stroke-width="1.2" fill="none" opacity="0.85"/>
 <path d="M477,178 C477,166 484,158 496,157" stroke="#cfa5a7" stroke-width="3.5" fill="none" filter="url(#b1)" opacity="0.8"/>
 <path d="M480,192 C476,182 479,170 488,167 C494,165 499,168 500,172" stroke="#5e3038" stroke-width="1.1" fill="none" opacity="0.85"/>
 <path d="M481,183 C481,176 485,171.5 491,171.5 C497,172 499,178 497,183 C494,189 486,190 484,185 C483,181 486,178 489,179" stroke="#552a32" stroke-width="1.1" fill="none"/>
 <ellipse cx="489.5" cy="182.5" rx="2.6" ry="2.2" fill="#e3c3c3" filter="url(#b05)"/>
 <path d="M457,190 C462,204 474,212 498,215" stroke="#542830" stroke-width="3.5" fill="none" filter="url(#b1)" opacity="0.8"/>
 <path d="M448,150 C452,156 456,164 458,172" stroke="#cfa5a7" stroke-width="3" fill="none" filter="url(#b1)" opacity="0.7"/>
 <!-- nerve (gold) -->
 <path d="M449,131 C458,127 468,121 476,118 C484,116 492,114 498,113 L498,121.5 C490,123.5 484,126 478.3,128 C470,130.5 460,133 452,135 Z" fill="#d9a74c" stroke="#9a6a28" stroke-width="0.5"/>
 <g stroke="#a87430" stroke-width="0.5" fill="none" opacity="0.8"><path d="M452,132 C466,127 482,121 498,116"/><path d="M456,132.5 C470,128 484,123.5 498,119"/></g>
 <path d="M460,126 C470,121 484,117 498,114.5" stroke="#f1d58c" stroke-width="1.2" fill="none" filter="url(#b05)"/>
 <path d="M451,156 L460,147 L462,152 L455,159 Z" fill="#cf9a46" opacity="0.9"/>

 <!-- ======== lower-right: muscle, tube ======== -->
 <!-- muscle (pink->red) -->
 <path d="M360,216 C364,214 368,213 372,214 L400,224 L440,230 L470,236 L500,240 L500,268 L440,268 C438,266 437,265 436,264.5 C433,263 430,261.5 427,260 C422,258 417.5,256.5 413,254.4 C408,252 403,249.5 398.7,247.3 C394,244.5 389,241.5 384.5,238.7 C379.5,236 374.5,233.5 370,231.6 C366,230 363,229 360,228 Z" fill="url(#igMuscle)"/>
 <g stroke="#a8564e" stroke-width="0.55" fill="none" opacity="0.6"><path d="M368,224 C385,232 410,244 440,256 C455,261 470,264 480,266"/><path d="M366,227.5 C385,236 410,249 436,261"/><path d="M374,222 C395,232 420,242 450,252 C470,258 485,262 498,264"/><path d="M382,224 C400,232 430,242 460,250 C475,254 488,257 498,259"/><path d="M392,227 C412,235 440,242 465,247 C480,250 490,252 498,254"/><path d="M404,231 C425,237 450,241 470,244 C482,246 492,248 498,249.5"/></g>
 <g stroke="#f3c3b8" stroke-width="1" fill="none" opacity="0.6" filter="url(#b05)"><path d="M370,223 C390,233 415,244 445,255 C462,260 478,264 490,266"/><path d="M378,223 C398,232 425,242 455,251 C472,256 486,259 498,261.5"/><path d="M398,229 C420,236 445,242 468,246"/></g>
 <path d="M470,246 C480,250 490,253 498,255 L498,264 L470,264 C476,258 474,252 470,246 Z" fill="#e2452f" filter="url(#b2)" opacity="0.7"/>
 <!-- peach wall right of mucus going down to tube top wall -->
 <path d="M436,167 C440,167 443,172 445.4,176 C448,181 452,184 453.6,186.6 C457,190.5 459,195 460.2,199.7 C461.5,203 463,204.5 465,205.5 C468,207.5 470.5,208.5 473.3,209.6 C478,211.5 483,213.8 488.2,215.4 L500,216.5 L500,228 L478.3,227.7 C473,227.5 469,227.5 465,227 C462,225.5 460,224 458.5,222.8 C456,222 454,221.5 452,221 C450,216 450,210 450.3,206 C450,200 446,194 441,190 C436,186 432,178 432.5,172 C433,169 434,167 436,167 Z" fill="#f4c39e" stroke="#a3523a" stroke-width="0.7"/>
 <path d="M438,171 C441,178 447,184 452,189 C456,194 457,200 459,205 C462,210 472,214 498,219.5" stroke="#fae3cb" stroke-width="2.2" fill="none" filter="url(#b05)"/>
 <path d="M456,214 C460,219 466,222.5 474,223.5 C482,224 490,224 498,224" stroke="#ee9a7a" stroke-width="2.5" fill="none" filter="url(#b1)" opacity="0.7"/>
 <path d="M448,214 L462,222 L468,232 L456,236 L446,228 Z" fill="#f0b08e"/>
 <!-- tube lumen red -->
 <path d="M461,226.5 C472,227.3 486,227.5 500,227.7 L500,237 C490,236 484,235.2 478.3,234.3 C472,233 467,231.5 462,229.5 Z" fill="#e0341f" stroke="#9c2215" stroke-width="0.5"/>
 <path d="M470,230 C480,231.5 490,232 500,232.5" stroke="#f4775c" stroke-width="2" fill="none" filter="url(#b1)" opacity="0.8"/>
 <!-- peach strip under mucus + lower tube wall -->
 <path d="M362,214.5 C365,212 367.5,209.5 369.5,206.7 C372,207 374.5,207.5 377,208.5 C381,210.5 384.5,212 388,214 C392,216 395,217.8 398,219.5 C402,221.2 406,222 410,222.5 L423,222.8 C428,223 432,223.5 436,224.5 C440,225 443,225.5 446,226.5 C450,227.5 453,228 456,228.3 C459,229 462,230 465,231 C469,232.5 473.5,233.6 478.3,234.3 C484,235.3 490,236.2 500,237 L500,246.2 C494,245.6 488,245 483.2,244.2 C478,243 474,242 470,240.9 C466,239.5 462,238.3 458.5,238 C454,238.3 450,238.8 446,238.7 C443,237.8 441,236.6 438.6,235.9 C435,235 431,235 427,235 C422,235.6 417.5,236 413,235.9 C408,235.6 403,234.9 398.7,233.7 C393.5,231.8 388.5,229.5 384.5,227.3 C379.5,223.8 374.5,220.3 370,217.4 C367,216.2 364.5,215.4 362,214.5 Z" fill="#ee9a7c" stroke="#a3523a" stroke-width="0.6"/>
 <path d="M371,210 C380,215 390,220.5 399,224.5 C408,227.5 420,227.5 430,228 C440,229 450,231.5 460,234.5 C472,238 485,240.5 499,241.5" stroke="#f8c4a6" stroke-width="2.6" fill="none" filter="url(#b05)" opacity="0.95"/>
 <path d="M368,216.5 C378,222.5 388,228.5 399,232 C410,234.5 420,233.8 430,233.5 C438,234 446,236.5 454,236.5" stroke="#d97a62" stroke-width="1.6" fill="none" filter="url(#b05)" opacity="0.8"/>

 <!-- ======== bone upper ======== -->
 <path d="M297,94 L320.7,94 C327,93.5 332,93 337,92.4 C342,91 346,89.5 350,88.3 C356,86.5 362,85 366.8,84.2 C370,83.8 372.5,84.2 375,85 C379,86.5 382,89 384.9,91.6 C388,94 391.5,95.5 394.7,97.4 C397,98.5 399,99.5 401,101 C403,102.5 404.5,104 405.9,106 C408,110 410.5,114 414,118 C417.5,121.5 422,124.5 425.6,127.8 C428,130 429.8,132 430.6,134.4 C432,138 432.8,142.5 432.2,146.3 C430,150 424,150 416,146 C410,142 404,132 400,124 C396,118 392.5,114.5 389.8,113 C387,109 386,106.5 384.9,104.8 C382,101.5 379.5,99 376.6,97.4 C374.5,96.2 372,95.8 370,95.7 L353.6,96.6 C349.5,97 346.5,97.8 343.7,99 C340.5,101 338.5,103.5 337,106.4 C335,110 333.7,114 333.5,118 C333.5,124 335.5,129 336.3,134.4 C336.5,139 336,142 334,143.7 C332,146 330,146.8 327.3,146.6 C323,146.3 319,145.8 315,145.2 L297,142.8 Z" fill="#f0dca6" stroke="#8a6a3a" stroke-width="0.8"/>
 <path d="M298,99 C312,98 326,98 334,97" stroke="#f8ecc8" stroke-width="3" fill="none" filter="url(#b1)"/>
 <ellipse cx="314.0" cy="124.3" rx="1.90" ry="1.60" fill="#5a3a1c" opacity="0.75"/>
<ellipse cx="318.2" cy="110.0" rx="1.37" ry="1.21" fill="#5a3a1c" opacity="0.87"/>
<ellipse cx="302.9" cy="114.5" rx="0.82" ry="0.77" fill="#5a3a1c" opacity="0.83"/>
<ellipse cx="301.3" cy="140.3" rx="1.95" ry="1.75" fill="#5a3a1c" opacity="0.80"/>
<ellipse cx="304.9" cy="103.6" rx="1.39" ry="1.00" fill="#5a3a1c" opacity="0.63"/>
<ellipse cx="307.5" cy="104.1" rx="1.30" ry="1.08" fill="#5a3a1c" opacity="0.89"/>
<ellipse cx="316.1" cy="127.3" rx="1.35" ry="1.21" fill="#5a3a1c" opacity="0.73"/>
<ellipse cx="308.6" cy="140.9" rx="1.99" ry="1.90" fill="#5a3a1c" opacity="0.83"/>
<ellipse cx="309.8" cy="111.7" rx="1.08" ry="0.78" fill="#5a3a1c" opacity="0.86"/>
<ellipse cx="312.4" cy="135.2" rx="1.20" ry="1.19" fill="#5a3a1c" opacity="0.89"/>
<ellipse cx="300.0" cy="111.0" rx="1.88" ry="1.58" fill="#5a3a1c" opacity="0.94"/>
<ellipse cx="312.3" cy="105.8" rx="1.52" ry="1.42" fill="#5a3a1c" opacity="0.66"/>
<ellipse cx="302.7" cy="115.6" rx="1.95" ry="1.81" fill="#5a3a1c" opacity="0.60"/>
<ellipse cx="307.6" cy="106.8" rx="0.78" ry="0.73" fill="#5a3a1c" opacity="0.62"/>
<ellipse cx="317.3" cy="120.0" rx="0.95" ry="0.87" fill="#5a3a1c" opacity="0.60"/>
<ellipse cx="320.0" cy="107.4" rx="1.25" ry="0.95" fill="#5a3a1c" opacity="0.66"/>
<ellipse cx="330.1" cy="133.5" rx="1.10" ry="1.06" fill="#5a3a1c" opacity="0.63"/>
<ellipse cx="312.2" cy="135.5" rx="1.53" ry="1.12" fill="#5a3a1c" opacity="0.95"/>
<ellipse cx="306.6" cy="112.8" rx="1.70" ry="1.36" fill="#5a3a1c" opacity="0.67"/>
<ellipse cx="302.3" cy="106.4" rx="1.46" ry="1.13" fill="#5a3a1c" opacity="0.79"/>
<ellipse cx="311.5" cy="120.2" rx="1.95" ry="1.65" fill="#5a3a1c" opacity="0.78"/>
<ellipse cx="304.8" cy="137.5" rx="1.76" ry="1.37" fill="#5a3a1c" opacity="0.63"/>
<ellipse cx="322.9" cy="138.7" rx="0.96" ry="0.94" fill="#5a3a1c" opacity="0.90"/>
<ellipse cx="318.7" cy="119.0" rx="0.83" ry="0.59" fill="#5a3a1c" opacity="0.94"/>
<ellipse cx="307.4" cy="129.8" rx="1.03" ry="0.98" fill="#5a3a1c" opacity="0.79"/>
<ellipse cx="309.1" cy="109.7" rx="1.64" ry="1.18" fill="#5a3a1c" opacity="0.64"/>
<ellipse cx="317.3" cy="135.4" rx="1.50" ry="1.17" fill="#5a3a1c" opacity="0.92"/>
<ellipse cx="306.3" cy="103.6" rx="1.05" ry="0.88" fill="#5a3a1c" opacity="0.57"/>
<ellipse cx="305.5" cy="117.0" rx="1.44" ry="1.07" fill="#5a3a1c" opacity="0.69"/>
<ellipse cx="327.6" cy="140.3" rx="1.55" ry="1.41" fill="#5a3a1c" opacity="0.78"/>
<ellipse cx="304.4" cy="104.3" rx="0.72" ry="0.70" fill="#5a3a1c" opacity="0.83"/>
<ellipse cx="319.7" cy="121.3" rx="1.65" ry="1.31" fill="#5a3a1c" opacity="0.95"/>
<ellipse cx="302.3" cy="123.8" rx="1.66" ry="1.61" fill="#5a3a1c" opacity="0.84"/>
<ellipse cx="321.8" cy="133.1" rx="1.89" ry="1.52" fill="#5a3a1c" opacity="0.82"/>
<ellipse cx="327.9" cy="136.1" rx="1.24" ry="1.16" fill="#5a3a1c" opacity="0.90"/>
<ellipse cx="317.8" cy="126.7" rx="1.20" ry="1.05" fill="#5a3a1c" opacity="0.79"/>
<ellipse cx="302.5" cy="127.3" rx="1.99" ry="1.92" fill="#5a3a1c" opacity="0.84"/>
<ellipse cx="312.0" cy="130.9" rx="1.46" ry="1.21" fill="#5a3a1c" opacity="0.89"/>
<ellipse cx="302.6" cy="131.5" rx="0.74" ry="0.65" fill="#5a3a1c" opacity="0.74"/>
<ellipse cx="307.1" cy="129.5" rx="1.35" ry="1.19" fill="#5a3a1c" opacity="0.92"/>
<ellipse cx="307.9" cy="103.4" rx="1.09" ry="0.99" fill="#5a3a1c" opacity="0.63"/>
<ellipse cx="305.3" cy="137.4" rx="1.56" ry="1.30" fill="#5a3a1c" opacity="0.91"/>
<ellipse cx="310.1" cy="128.3" rx="0.96" ry="0.79" fill="#5a3a1c" opacity="0.87"/>
<ellipse cx="328.3" cy="136.5" rx="1.20" ry="1.05" fill="#5a3a1c" opacity="0.68"/>
<ellipse cx="304.2" cy="121.9" rx="1.79" ry="1.71" fill="#5a3a1c" opacity="0.83"/>
<ellipse cx="329.5" cy="113.5" rx="0.92" ry="0.77" fill="#5a3a1c" opacity="0.66"/>
<ellipse cx="306.6" cy="118.7" rx="1.51" ry="1.28" fill="#5a3a1c" opacity="0.68"/>
<ellipse cx="326.0" cy="140.3" rx="1.29" ry="0.93" fill="#5a3a1c" opacity="0.56"/>
<ellipse cx="322.0" cy="124.7" rx="1.10" ry="1.03" fill="#5a3a1c" opacity="0.56"/>
<ellipse cx="304.2" cy="120.3" rx="0.73" ry="0.69" fill="#5a3a1c" opacity="0.64"/>
<ellipse cx="304.4" cy="104.8" rx="1.52" ry="1.27" fill="#5a3a1c" opacity="0.80"/>
<ellipse cx="320.3" cy="133.7" rx="1.95" ry="1.76" fill="#5a3a1c" opacity="0.63"/>
<ellipse cx="314.7" cy="109.8" rx="0.71" ry="0.60" fill="#5a3a1c" opacity="0.84"/>
<ellipse cx="305.6" cy="113.3" rx="1.15" ry="1.05" fill="#5a3a1c" opacity="0.76"/>
<ellipse cx="319.0" cy="131.7" rx="1.21" ry="1.14" fill="#5a3a1c" opacity="0.91"/>
<ellipse cx="302.7" cy="138.4" rx="1.64" ry="1.21" fill="#5a3a1c" opacity="0.73"/>
<ellipse cx="319.4" cy="137.6" rx="1.19" ry="1.04" fill="#5a3a1c" opacity="0.90"/>
<ellipse cx="324.7" cy="138.9" rx="1.30" ry="1.17" fill="#5a3a1c" opacity="0.63"/>
<ellipse cx="322.4" cy="134.1" rx="1.53" ry="1.40" fill="#5a3a1c" opacity="0.64"/>
<ellipse cx="327.9" cy="140.3" rx="1.97" ry="1.70" fill="#5a3a1c" opacity="0.87"/>
 <ellipse cx="338" cy="97" rx="0.76" ry="0.86" fill="#6a4722" opacity="0.8"/>
<ellipse cx="342" cy="93.5" rx="1.03" ry="0.64" fill="#6a4722" opacity="0.8"/>
<ellipse cx="347" cy="91.5" rx="0.64" ry="0.68" fill="#6a4722" opacity="0.8"/>
<ellipse cx="352" cy="90.5" rx="0.88" ry="0.81" fill="#6a4722" opacity="0.8"/>
<ellipse cx="357" cy="89" rx="0.84" ry="0.51" fill="#6a4722" opacity="0.8"/>
<ellipse cx="362" cy="88" rx="1.00" ry="0.53" fill="#6a4722" opacity="0.8"/>
<ellipse cx="367" cy="87.5" rx="1.00" ry="0.57" fill="#6a4722" opacity="0.8"/>
<ellipse cx="371" cy="88.5" rx="0.77" ry="0.82" fill="#6a4722" opacity="0.8"/>
<ellipse cx="376" cy="90" rx="0.67" ry="0.56" fill="#6a4722" opacity="0.8"/>
<ellipse cx="380" cy="93" rx="0.86" ry="0.79" fill="#6a4722" opacity="0.8"/>
<ellipse cx="384" cy="96.5" rx="1.02" ry="0.78" fill="#6a4722" opacity="0.8"/>
<ellipse cx="388" cy="101" rx="1.07" ry="0.70" fill="#6a4722" opacity="0.8"/>
<ellipse cx="392" cy="106" rx="1.07" ry="0.53" fill="#6a4722" opacity="0.8"/>
<ellipse cx="397" cy="104" rx="0.71" ry="0.71" fill="#6a4722" opacity="0.8"/>
<ellipse cx="401" cy="109" rx="0.75" ry="0.79" fill="#6a4722" opacity="0.8"/>
<ellipse cx="405" cy="115" rx="0.92" ry="0.71" fill="#6a4722" opacity="0.8"/>
<ellipse cx="409" cy="121" rx="1.02" ry="0.72" fill="#6a4722" opacity="0.8"/>
<ellipse cx="413" cy="127" rx="0.76" ry="0.65" fill="#6a4722" opacity="0.8"/>
<ellipse cx="425" cy="137" rx="1.02" ry="0.86" fill="#6a4722" opacity="0.8"/>
<ellipse cx="349" cy="94" rx="0.70" ry="0.84" fill="#6a4722" opacity="0.8"/>
<ellipse cx="359" cy="92" rx="1.08" ry="0.71" fill="#6a4722" opacity="0.8"/>
<ellipse cx="369" cy="91.5" rx="0.89" ry="0.58" fill="#6a4722" opacity="0.8"/>
<ellipse cx="379" cy="96" rx="0.87" ry="0.70" fill="#6a4722" opacity="0.8"/>
<ellipse cx="386" cy="103.5" rx="0.90" ry="0.51" fill="#6a4722" opacity="0.8"/>
<ellipse cx="395" cy="109" rx="1.08" ry="0.71" fill="#6a4722" opacity="0.8"/>
<ellipse cx="399" cy="116" rx="0.80" ry="0.82" fill="#6a4722" opacity="0.8"/>
<ellipse cx="403" cy="122" rx="0.88" ry="0.70" fill="#6a4722" opacity="0.8"/>
 <ellipse cx="419.3" cy="131" rx="3.4" ry="4.8" fill="#e9a347" stroke="#8a5a2a" stroke-width="0.7" transform="rotate(-35 419 130.3)"/>

 <!-- ======== mucus ======== -->
 <path d="M337,107 C339,103 342,100.5 346,99.5 C350,98 355,98 359,98 L370,97.5 C373,97.5 375,98.5 377,100 C380,102.5 382.5,105.5 384.5,108.5 C386,111 387.5,112.5 389,113.5 C391.5,115 394,115.8 396,116.8 C398,118 399.5,119.5 400.5,121.5 C402,123 403.5,124 404.5,126 C406,130.5 408.5,135 412.5,139 C414.5,141 416.5,142.5 418.5,143.5 C422.5,145.5 427,146.5 431,147.5 L433,149 L436,160 L432,175 L370,200 L340,150 Z" fill="#e9d08c" stroke="#e9d08c" stroke-width="7" stroke-linejoin="round"/>
 <path d="M337,107 C339,103 342,100.5 346,99.5 C350,98 355,98 359,98 L370,97.5 C373,97.5 375,98.5 377,100 C380,102.5 382.5,105.5 384.5,108.5 C386,111 387.5,112.5 389,113.5 C391.5,115 394,115.8 396,116.8 C398,118 399.5,119.5 400.5,121.5 C402,123 403.5,124 404.5,126 C406,130.5 408.5,135 412.5,139 C414.5,141 416.5,142.5 418.5,143.5 C422.5,145.5 427,146.5 431,147.5 L433,149 C436,152 438.5,156 439.6,161 C440,164.5 438,167 435.5,168 C433,170 432,173 432.5,177 C433.5,181 436,185 440,188.5 C445,192 449,196 450.5,201 C451.5,206 450,210 450.3,214 C450.5,218 452,221 455,225 C458,229 461,232 463.5,234.5 C459,235 455,233 452,230.5 C449,228.2 447.5,227.3 446,226.6 C442.5,226 439,225.6 435.8,225.2 C431,224 427,223.2 423,223 L410,223 C406,222.5 402,221.5 398.7,220.2 C395,218.2 392,216.2 388.8,214.5 C385,212.6 381,210.8 377.4,208.8 C375.5,206 373.5,203 371.7,200.3 L374.5,199 C372,191 369,184 366.8,179.5 C363,172 358,166 353.6,161.4 C349,156 343,152 340.4,150 C338,146 337,143 338.5,139.5 C339.5,136 338,132 337,128 C335.5,121 335,113 337,107 Z" fill="url(#igMucus)" stroke="#7a6a24" stroke-width="0.8"/>
 <path d="M340,108 C343,103 349,101.5 356,101 L369,100.5 C374,101 378,106 382,111.5 C386,116 392,118 397,122" stroke="#f0e59a" stroke-width="2" fill="none" filter="url(#b05)" opacity="0.9"/>
 <path d="M339,112 C338,122 341,132 341,140 C342,148 350,154 356,161 C362,168 366,178 370,188 C373,198 378,206 386,210" stroke="#ece08c" stroke-width="2.2" fill="none" filter="url(#b05)" opacity="0.85"/>
 <path d="M352,112 C362,118 366,130 362,142 C360,152 370,160 376,170 M372,118 C380,126 388,136 388,148 C388,160 396,170 400,184" stroke="#e6d878" stroke-width="1.6" fill="none" filter="url(#b1)" opacity="0.7"/>
 <path d="M398,222 C410,221 420,222 432,224 C440,225 446,224 451,226" stroke="#efe396" stroke-width="2" fill="none" filter="url(#b05)" opacity="0.9"/>
 <path d="M436,152 C437,158 436,164 433,168 C430,174 432,182 438,188 C444,193 448,198 448,206 C447,214 450,222 456,229" stroke="#ece08c" stroke-width="1.8" fill="none" filter="url(#b05)" opacity="0.85"/>

 <!-- ======== ear canal, eardrum ======== -->
 <!-- skin upper -->
 <path d="M297,142.5 L315,145 C319,145.6 323,146.1 327.3,146.4 C330,146.5 332,145.8 334,143.5 L338,147 C336,150 334,153 331,154 L297,152.5 Z" fill="#e9a08e" stroke="#9a4a3a" stroke-width="0.5"/>
 <path d="M298,146.8 C310,148.3 322,149 332,148" stroke="#f7cfc0" stroke-width="1.8" fill="none" filter="url(#b05)"/>
 <!-- canal -->
 <path d="M297,152.5 L331,153.5 C328,158 326.5,165 327.3,173 C328.5,180 331,185 333.8,187.7 C337,192 341,196 345.4,199.2 C350,202 356,205 360.2,205.8 L368.4,206.6 L369,209 L353.6,209 C345,206 337,203 329,201 L297,192.7 Z" fill="url(#igCanal)"/>
 <path d="M298,160 C308,159 318,160 326,163" stroke="#c2695c" stroke-width="4" fill="none" filter="url(#b2)" opacity="0.6"/>
 <!-- eardrum red -->
 <path d="M333.8,154 C331,155 328.5,158 327.3,161.4 C326,166 326.5,170 327.3,173 C328.5,179 330.5,184 333.8,187.7 C337,192 341,196 345.4,199.2 C350,202.5 355,205 360.2,205.8 L368.4,206.6 C369.5,204 369.5,200.5 368.4,197.6 C366.5,192 364.5,187 361.8,182.8 C358.5,177 354.5,171.5 350.3,166.3 C346,161.5 342.5,158 338.8,154.8 C337,153.8 335.5,153.6 333.8,154 Z" fill="url(#igDrum)" stroke="#7c1410" stroke-width="0.8"/>
 <g stroke="#f58a74" stroke-width="0.7" opacity="0.85" fill="none"><path d="M345,181 L331,172"/><path d="M345,181 L332,178"/><path d="M345,181 L334,184"/><path d="M346,182 L339,191"/><path d="M347,183 L345,196"/><path d="M348,183 L352,199"/><path d="M349,183 L358,200"/><path d="M350,182 L363,199"/><path d="M345,180 L334,166"/><path d="M346,179 L338,161"/></g>
 <path d="M331,163 C329.5,170 331,180 336,187" stroke="#f2644e" stroke-width="2" fill="none" filter="url(#b1)" opacity="0.8"/>
 <!-- thin peach layer between eardrum and mucus -->
 <path d="M338,147 C340,150 345,154 349,158 C355,164 360,171 364,178 C367,184 369.5,190 371.5,196 C373,200 374,204 376,206.5 L370,208.5 C370.5,204 370,200 368.4,197.6 C366.5,192 364.5,187 361.8,182.8 C358.5,177 354.5,171.5 350.3,166.3 C346,161.5 342.5,158 338.8,154.8 C337,153.5 336,152 335.5,151 Z" fill="#f0b896" stroke="#9a4a3a" stroke-width="0.5"/>
 <!-- skin lower band -->
 <path d="M297,192.7 L329,201 C337,203 345,206 353.6,209 L369,209 C372,210 374,212 376,214 L370,217.5 C368,217.5 367.5,217.3 366.8,217 L350,213.5 C342,211 336,209 329,207.5 L297,202.5 Z" fill="#eaa58e" stroke="#9a4a3a" stroke-width="0.6"/>
 <path d="M298,195.5 C315,199.5 335,205 352,210.5" stroke="#f6cbb6" stroke-width="1.6" fill="none" filter="url(#b05)"/>
 <!-- lower bone -->
 <path d="M297,202.5 L329,207.5 C336,209 342,211 350,214 L366.8,217.5 L368.4,219 C360,220 352,221 345.4,222 C336,223.5 328,225 320.7,226.5 C312,228.5 304,230 297,231 Z" fill="#f1e0ac" stroke="#8a6a3a" stroke-width="0.6"/>
 <ellipse cx="303" cy="209" rx="1.3" ry="1.10" fill="#5a3a1c" opacity="0.8"/>
<ellipse cx="306" cy="214" rx="1.8" ry="1.53" fill="#5a3a1c" opacity="0.8"/>
<ellipse cx="309" cy="210.5" rx="1.2" ry="1.02" fill="#5a3a1c" opacity="0.8"/>
<ellipse cx="311" cy="217" rx="1.4" ry="1.19" fill="#5a3a1c" opacity="0.8"/>
<ellipse cx="314" cy="212" rx="1.0" ry="0.85" fill="#5a3a1c" opacity="0.8"/>
<ellipse cx="316" cy="216" rx="1.6" ry="1.36" fill="#5a3a1c" opacity="0.8"/>
<ellipse cx="319" cy="213" rx="1.0" ry="0.85" fill="#5a3a1c" opacity="0.8"/>
<ellipse cx="322" cy="217" rx="1.3" ry="1.10" fill="#5a3a1c" opacity="0.8"/>
<ellipse cx="325" cy="214.5" rx="1.1" ry="0.94" fill="#5a3a1c" opacity="0.8"/>
<ellipse cx="328" cy="217.5" rx="1.3" ry="1.10" fill="#5a3a1c" opacity="0.8"/>
<ellipse cx="331" cy="215.5" rx="1.0" ry="0.85" fill="#5a3a1c" opacity="0.8"/>
<ellipse cx="334" cy="217.5" rx="1.2" ry="1.02" fill="#5a3a1c" opacity="0.8"/>
<ellipse cx="338" cy="216.5" rx="0.9" ry="0.77" fill="#5a3a1c" opacity="0.8"/>
<ellipse cx="302" cy="219" rx="1.0" ry="0.85" fill="#5a3a1c" opacity="0.8"/>
<ellipse cx="307" cy="221" rx="0.9" ry="0.77" fill="#5a3a1c" opacity="0.8"/>
 <!-- cartilage striped -->
 <path d="M297,231 C304,230 312,228.5 320.7,226.5 C328,225 336,223.5 345.4,222 C352,221 360,220 368.4,219 L370,227.5 C364,236 356,250 345,266 L297,266 Z" fill="url(#igCart)"/>
 <path d="M330,226 C342,223.5 356,221.5 368,220.5 L369.5,227 C360,228 345,230 334,234 Z" fill="#a97a50" filter="url(#b1)" opacity="0.75"/>
 <g stroke="#b08c56" stroke-width="0.8" opacity="0.75" fill="none"><path d="M304,232 L303,263"/><path d="M311,231 L310,263"/><path d="M318,230 L319,263"/><path d="M325,229 L327,263"/><path d="M332,229 L335,263"/><path d="M339,228 L342,262"/><path d="M346,227 L348,255"/><path d="M353,226 L354,246"/><path d="M360,225 L360,238"/></g>
 <g stroke="#f5e6c2" stroke-width="1" opacity="0.7" fill="none"><path d="M307.5,232 L306.5,263"/><path d="M321.5,230 L323,263"/><path d="M335.5,229 L338.5,262"/></g>
</g>
<rect x="297.15" y="64.15" width="200.7" height="200.6" fill="none" stroke="#111" stroke-width="2.3"/>
</g>


<g id="labels" font-size="13.8" text-anchor="middle" opacity="0.995">
 <text x="186" y="31" font-size="14">Main divisions of the ear</text>
 <text x="109.5" y="171">Outer</text><text x="109.5" y="185.5">ear</text>
 <text x="179" y="172.5">Middle</text><text x="179" y="187">ear</text>
 <text x="225.5" y="186">Inner</text><text x="225.5" y="200.5">ear</text>
 <text x="257" y="464.5">Eardrum</text><text x="257" y="479">(tympanic membrane)</text>
 <text x="394" y="510.5">Eustachian</text><text x="394" y="525">tube</text>
 <g text-anchor="start">
 <text x="511" y="140">Thick mucus</text><text x="511" y="154.5">in middle ear</text>
 <text x="511" y="184.5">Bulging, inflamed</text><text x="511" y="199">eardrum</text>
 <text x="511" y="248.5">Swollen</text><text x="511" y="263">eustachian tube</text>
 <text x="4" y="547" font-size="8.7" textLength="387" lengthAdjust="spacing" fill="#4a4a4a">© MAYO FOUNDATION FOR MEDICAL EDUCATION AND RESEARCH. ALL RIGHTS RESERVED.</text>
 </g>
 <g stroke="#222" stroke-width="1" fill="none">
  <path d="M109.5,112 V159"/><path d="M179.5,112 V159.5"/><path d="M225.5,119 V173"/>
  <path d="M275.7,387.6 L257.8,451"/><path d="M401,424.5 L394.5,498"/>
  <path d="M384,134.5 H508"/><path d="M345,180.5 H508"/><path d="M470,244.5 H508"/>
  <path d="M297,65 L243.3,298"/><path d="M498.3,265.5 L378.2,433"/>
 </g>
</g>

</svg>
</body></html>
